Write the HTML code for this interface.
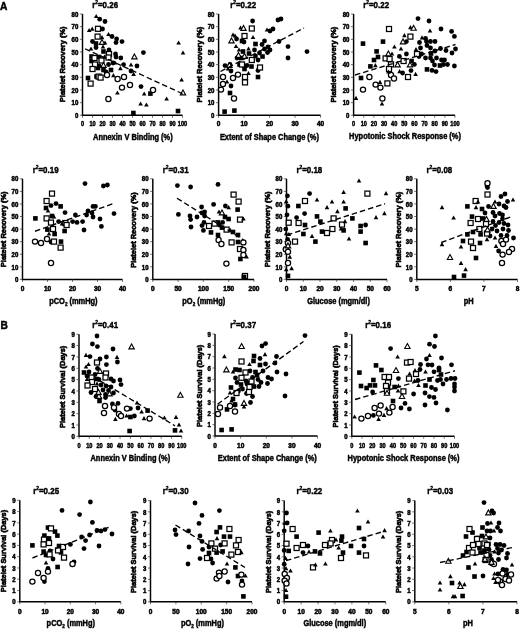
<!DOCTYPE html><html><head><meta charset="utf-8"><style>html,body{margin:0;padding:0;background:#fff;overflow:hidden;}svg{display:block;will-change:transform;}text{font-family:"Liberation Sans", sans-serif;font-weight:bold;fill:#000;}.o{fill:#fff;stroke:#000;}.t{stroke:#000;stroke-width:0.45;}.k{stroke:#000;stroke-width:0.5;}</style></head><body>
<svg width="520" height="629" viewBox="0 0 520 629">
<rect width="520" height="629" fill="#fff"/>
<text x="0" y="10.3" font-size="10.2" class="t">A</text>
<text x="0.5" y="328.8" font-size="10.2" class="t">B</text>
<path d="M82.50,14.00V115.30H182.50" fill="none" stroke="#000" stroke-width="1.45"/>
<path d="M82.50,115.30v2.5 M92.50,115.30v2.5 M102.50,115.30v2.5 M112.50,115.30v2.5 M122.50,115.30v2.5 M132.50,115.30v2.5 M142.50,115.30v2.5 M152.50,115.30v2.5 M162.50,115.30v2.5 M172.50,115.30v2.5 M182.50,115.30v2.5 M82.50,115.30h-2.6 M82.50,102.64h-2.6 M82.50,89.97h-2.6 M82.50,77.31h-2.6 M82.50,64.65h-2.6 M82.50,51.99h-2.6 M82.50,39.33h-2.6 M82.50,26.66h-2.6 M82.50,14.00h-2.6" stroke="#333" stroke-width="0.7" fill="none"/>
<text transform="translate(82.50,125.70) scale(0.78,1)" font-size="7.2" text-anchor="middle" class="k">0</text>
<text transform="translate(92.50,125.70) scale(0.78,1)" font-size="7.2" text-anchor="middle" class="k">10</text>
<text transform="translate(102.50,125.70) scale(0.78,1)" font-size="7.2" text-anchor="middle" class="k">20</text>
<text transform="translate(112.50,125.70) scale(0.78,1)" font-size="7.2" text-anchor="middle" class="k">30</text>
<text transform="translate(122.50,125.70) scale(0.78,1)" font-size="7.2" text-anchor="middle" class="k">40</text>
<text transform="translate(132.50,125.70) scale(0.78,1)" font-size="7.2" text-anchor="middle" class="k">50</text>
<text transform="translate(142.50,125.70) scale(0.78,1)" font-size="7.2" text-anchor="middle" class="k">60</text>
<text transform="translate(152.50,125.70) scale(0.78,1)" font-size="7.2" text-anchor="middle" class="k">70</text>
<text transform="translate(162.50,125.70) scale(0.78,1)" font-size="7.2" text-anchor="middle" class="k">80</text>
<text transform="translate(172.50,125.70) scale(0.78,1)" font-size="7.2" text-anchor="middle" class="k">90</text>
<text transform="translate(182.50,125.70) scale(0.78,1)" font-size="7.2" text-anchor="middle" class="k">100</text>
<text transform="translate(78.30,117.98) scale(0.93,1)" font-size="6.5" text-anchor="end" class="k">0</text>
<text transform="translate(78.30,105.31) scale(0.93,1)" font-size="6.5" text-anchor="end" class="k">10</text>
<text transform="translate(78.30,92.65) scale(0.93,1)" font-size="6.5" text-anchor="end" class="k">20</text>
<text transform="translate(78.30,79.99) scale(0.93,1)" font-size="6.5" text-anchor="end" class="k">30</text>
<text transform="translate(78.30,67.33) scale(0.93,1)" font-size="6.5" text-anchor="end" class="k">40</text>
<text transform="translate(78.30,54.66) scale(0.93,1)" font-size="6.5" text-anchor="end" class="k">50</text>
<text transform="translate(78.30,42.00) scale(0.93,1)" font-size="6.5" text-anchor="end" class="k">60</text>
<text transform="translate(78.30,29.34) scale(0.93,1)" font-size="6.5" text-anchor="end" class="k">70</text>
<text transform="translate(78.30,16.67) scale(0.93,1)" font-size="6.5" text-anchor="end" class="k">80</text>
<text transform="translate(132.85,139.60) scale(0.885,1)" font-size="8.4" text-anchor="middle" class="t">Annexin V Binding (%)</text>
<text transform="translate(65.40,64.30) rotate(-90) scale(0.98,1)" font-size="7.6" text-anchor="middle" class="t" style="stroke-width:0.6">Platelet Recovery (%)</text>
<text transform="translate(92.20,7.80) scale(0.81,1)" font-size="9.8" class="t">r<tspan font-size="6" dy="-3.4">2</tspan><tspan dy="3.4">=0.26</tspan></text>
<g><circle cx="105.00" cy="21.50" r="2.4"/><circle cx="102.50" cy="29.00" r="2.4"/><circle cx="116.60" cy="39.00" r="2.4"/><circle cx="116.00" cy="42.60" r="2.4"/><circle cx="122.00" cy="41.60" r="2.4"/><circle cx="112.00" cy="36.50" r="2.4"/><circle cx="99.70" cy="19.20" r="2.4"/><circle cx="92.50" cy="41.50" r="2.4"/><circle cx="96.00" cy="47.50" r="2.4"/><circle cx="109.00" cy="50.00" r="2.4"/><circle cx="115.50" cy="54.00" r="2.4"/><circle cx="116.00" cy="57.00" r="2.4"/><circle cx="120.80" cy="58.00" r="2.4"/><circle cx="99.00" cy="66.00" r="2.4"/><circle cx="108.50" cy="64.50" r="2.4"/><circle cx="113.00" cy="63.00" r="2.4"/><circle cx="123.60" cy="64.60" r="2.4"/><circle cx="131.00" cy="71.00" r="2.4"/><circle cx="137.00" cy="66.00" r="2.4"/><circle cx="143.40" cy="52.60" r="2.4"/><circle cx="141.00" cy="86.60" r="2.4"/><circle cx="106.00" cy="72.00" r="2.4"/><rect x="93.70" y="41.20" width="4.6" height="4.6"/><rect x="101.20" y="49.20" width="4.6" height="4.6"/><rect x="89.20" y="54.20" width="4.6" height="4.6"/><rect x="96.70" y="54.70" width="4.6" height="4.6"/><rect x="89.20" y="58.70" width="4.6" height="4.6"/><rect x="95.70" y="65.70" width="4.6" height="4.6"/><rect x="101.20" y="67.70" width="4.6" height="4.6"/><rect x="108.70" y="67.70" width="4.6" height="4.6"/><rect x="85.70" y="75.70" width="4.6" height="4.6"/><rect x="94.20" y="74.20" width="4.6" height="4.6"/><rect x="148.10" y="91.30" width="4.6" height="4.6"/><rect x="131.10" y="110.70" width="4.6" height="4.6"/><rect x="175.70" y="108.70" width="4.6" height="4.6"/><rect x="95.50" y="26.30" width="5.0" height="5.0" class="o" stroke-width="1.25"/><rect x="95.10" y="34.10" width="5.0" height="5.0" class="o" stroke-width="1.25"/><rect x="106.50" y="51.50" width="5.0" height="5.0" class="o" stroke-width="1.25"/><rect x="92.00" y="55.50" width="5.0" height="5.0" class="o" stroke-width="1.25"/><rect x="99.00" y="58.00" width="5.0" height="5.0" class="o" stroke-width="1.25"/><rect x="106.00" y="55.00" width="5.0" height="5.0" class="o" stroke-width="1.25"/><rect x="92.50" y="62.00" width="5.0" height="5.0" class="o" stroke-width="1.25"/><rect x="90.00" y="66.50" width="5.0" height="5.0" class="o" stroke-width="1.25"/><rect x="88.10" y="81.10" width="5.0" height="5.0" class="o" stroke-width="1.25"/><rect x="96.10" y="74.10" width="5.0" height="5.0" class="o" stroke-width="1.25"/><rect x="98.10" y="75.10" width="5.0" height="5.0" class="o" stroke-width="1.25"/><circle cx="108.40" cy="99.00" r="2.6" class="o" stroke-width="1.25"/><circle cx="122.00" cy="87.60" r="2.6" class="o" stroke-width="1.25"/><circle cx="130.00" cy="85.00" r="2.6" class="o" stroke-width="1.25"/><circle cx="117.60" cy="79.00" r="2.6" class="o" stroke-width="1.25"/><circle cx="124.00" cy="77.00" r="2.6" class="o" stroke-width="1.25"/><circle cx="153.00" cy="90.00" r="2.6" class="o" stroke-width="1.25"/><circle cx="107.00" cy="75.00" r="2.6" class="o" stroke-width="1.25"/><path d="M96.20,13.90L98.50,18.11L93.90,18.11Z"/><path d="M89.20,27.90L91.50,32.11L86.90,32.11Z"/><path d="M92.20,26.60L94.50,30.81L89.90,30.81Z"/><path d="M102.00,35.00L104.30,39.21L99.70,39.21Z"/><path d="M108.50,31.90L110.80,36.11L106.20,36.11Z"/><path d="M105.00,40.40L107.30,44.61L102.70,44.61Z"/><path d="M103.00,44.40L105.30,48.61L100.70,48.61Z"/><path d="M91.00,46.40L93.30,50.61L88.70,50.61Z"/><path d="M104.50,54.40L106.80,58.61L102.20,58.61Z"/><path d="M115.00,60.40L117.30,64.61L112.70,64.61Z"/><path d="M120.40,66.00L122.70,70.21L118.10,70.21Z"/><path d="M131.00,62.40L133.30,66.61L128.70,66.61Z"/><path d="M133.60,71.80L135.90,76.01L131.30,76.01Z"/><path d="M113.40,73.00L115.70,77.21L111.10,77.21Z"/><path d="M117.40,90.40L119.70,94.61L115.10,94.61Z"/><path d="M144.20,91.40L146.50,95.61L141.90,95.61Z"/><path d="M140.60,101.40L142.90,105.61L138.30,105.61Z"/><path d="M146.40,102.40L148.70,106.61L144.10,106.61Z"/><path d="M166.60,96.40L168.90,100.61L164.30,100.61Z"/><path d="M178.60,40.40L180.90,44.61L176.30,44.61Z"/><path d="M183.00,50.40L185.30,54.61L180.70,54.61Z"/><path d="M181.60,77.40L183.90,81.61L179.30,81.61Z"/><path d="M102.00,39.50L104.70,44.36L99.30,44.36Z" class="o" stroke-width="1.1"/><path d="M103.50,62.50L106.20,67.36L100.80,67.36Z" class="o" stroke-width="1.1"/><path d="M134.40,54.00L137.10,58.86L131.70,58.86Z" class="o" stroke-width="1.1"/><path d="M183.00,90.00L185.70,94.86L180.30,94.86Z" class="o" stroke-width="1.1"/></g>
<path d="M85.00,48.75L182.50,93.75" stroke="#000" stroke-width="1.35" stroke-dasharray="5.5,3" fill="none"/>
<path d="M218.60,14.00V115.30H320.60" fill="none" stroke="#000" stroke-width="1.45"/>
<path d="M218.60,115.30v2.5 M244.10,115.30v2.5 M269.60,115.30v2.5 M295.10,115.30v2.5 M320.60,115.30v2.5 M218.60,115.30h-2.6 M218.60,102.64h-2.6 M218.60,89.97h-2.6 M218.60,77.31h-2.6 M218.60,64.65h-2.6 M218.60,51.99h-2.6 M218.60,39.33h-2.6 M218.60,26.66h-2.6 M218.60,14.00h-2.6" stroke="#333" stroke-width="0.7" fill="none"/>
<text transform="translate(218.60,125.70) scale(1.0,1)" font-size="6.5" text-anchor="middle" class="k">0</text>
<text transform="translate(244.10,125.70) scale(1.0,1)" font-size="6.5" text-anchor="middle" class="k">10</text>
<text transform="translate(269.60,125.70) scale(1.0,1)" font-size="6.5" text-anchor="middle" class="k">20</text>
<text transform="translate(295.10,125.70) scale(1.0,1)" font-size="6.5" text-anchor="middle" class="k">30</text>
<text transform="translate(320.60,125.70) scale(1.0,1)" font-size="6.5" text-anchor="middle" class="k">40</text>
<text transform="translate(214.40,117.98) scale(0.93,1)" font-size="6.5" text-anchor="end" class="k">0</text>
<text transform="translate(214.40,105.31) scale(0.93,1)" font-size="6.5" text-anchor="end" class="k">10</text>
<text transform="translate(214.40,92.65) scale(0.93,1)" font-size="6.5" text-anchor="end" class="k">20</text>
<text transform="translate(214.40,79.99) scale(0.93,1)" font-size="6.5" text-anchor="end" class="k">30</text>
<text transform="translate(214.40,67.33) scale(0.93,1)" font-size="6.5" text-anchor="end" class="k">40</text>
<text transform="translate(214.40,54.66) scale(0.93,1)" font-size="6.5" text-anchor="end" class="k">50</text>
<text transform="translate(214.40,42.00) scale(0.93,1)" font-size="6.5" text-anchor="end" class="k">60</text>
<text transform="translate(214.40,29.34) scale(0.93,1)" font-size="6.5" text-anchor="end" class="k">70</text>
<text transform="translate(214.40,16.67) scale(0.93,1)" font-size="6.5" text-anchor="end" class="k">80</text>
<text transform="translate(269.40,139.60) scale(0.885,1)" font-size="8.4" text-anchor="middle" class="t">Extent of Shape Change (%)</text>
<text transform="translate(202.00,64.60) rotate(-90) scale(0.98,1)" font-size="7.6" text-anchor="middle" class="t" style="stroke-width:0.6">Platelet Recovery (%)</text>
<text transform="translate(230.20,7.80) scale(0.81,1)" font-size="9.8" class="t">r<tspan font-size="6" dy="-3.4">2</tspan><tspan dy="3.4">=0.22</tspan></text>
<g><circle cx="252.60" cy="21.00" r="2.4"/><circle cx="278.00" cy="20.00" r="2.4"/><circle cx="281.00" cy="19.00" r="2.4"/><circle cx="270.00" cy="31.00" r="2.4"/><circle cx="273.00" cy="29.00" r="2.4"/><circle cx="236.50" cy="39.00" r="2.4"/><circle cx="244.00" cy="42.00" r="2.4"/><circle cx="264.50" cy="41.00" r="2.4"/><circle cx="279.00" cy="41.50" r="2.4"/><circle cx="262.00" cy="44.50" r="2.4"/><circle cx="268.00" cy="47.00" r="2.4"/><circle cx="270.00" cy="50.00" r="2.4"/><circle cx="264.50" cy="49.00" r="2.4"/><circle cx="254.50" cy="50.00" r="2.4"/><circle cx="267.50" cy="52.50" r="2.4"/><circle cx="259.50" cy="53.00" r="2.4"/><circle cx="255.50" cy="56.00" r="2.4"/><circle cx="237.00" cy="58.00" r="2.4"/><circle cx="258.00" cy="60.00" r="2.4"/><circle cx="247.00" cy="65.50" r="2.4"/><circle cx="258.00" cy="70.50" r="2.4"/><circle cx="230.00" cy="64.50" r="2.4"/><circle cx="231.00" cy="71.00" r="2.4"/><circle cx="288.00" cy="46.60" r="2.4"/><circle cx="307.00" cy="51.60" r="2.4"/><circle cx="288.00" cy="58.00" r="2.4"/><circle cx="225.00" cy="65.60" r="2.4"/><circle cx="231.00" cy="86.00" r="2.4"/><rect x="239.70" y="38.70" width="4.6" height="4.6"/><rect x="253.20" y="41.70" width="4.6" height="4.6"/><rect x="240.70" y="49.20" width="4.6" height="4.6"/><rect x="246.70" y="51.20" width="4.6" height="4.6"/><rect x="260.20" y="54.20" width="4.6" height="4.6"/><rect x="238.70" y="55.70" width="4.6" height="4.6"/><rect x="237.20" y="62.20" width="4.6" height="4.6"/><rect x="249.20" y="64.20" width="4.6" height="4.6"/><rect x="242.20" y="66.70" width="4.6" height="4.6"/><rect x="255.70" y="74.70" width="4.6" height="4.6"/><rect x="227.70" y="90.70" width="4.6" height="4.6"/><rect x="222.30" y="109.30" width="4.6" height="4.6"/><rect x="232.10" y="108.30" width="4.6" height="4.6"/><rect x="249.30" y="26.00" width="5.0" height="5.0" class="o" stroke-width="1.25"/><rect x="242.00" y="33.50" width="5.0" height="5.0" class="o" stroke-width="1.25"/><rect x="249.30" y="57.50" width="5.0" height="5.0" class="o" stroke-width="1.25"/><rect x="239.50" y="62.00" width="5.0" height="5.0" class="o" stroke-width="1.25"/><rect x="257.50" y="65.00" width="5.0" height="5.0" class="o" stroke-width="1.25"/><rect x="242.50" y="74.50" width="5.0" height="5.0" class="o" stroke-width="1.25"/><rect x="242.50" y="79.90" width="5.0" height="5.0" class="o" stroke-width="1.25"/><circle cx="223.00" cy="77.00" r="2.6" class="o" stroke-width="1.25"/><circle cx="223.00" cy="84.00" r="2.6" class="o" stroke-width="1.25"/><circle cx="221.00" cy="89.60" r="2.6" class="o" stroke-width="1.25"/><circle cx="233.00" cy="78.00" r="2.6" class="o" stroke-width="1.25"/><circle cx="238.00" cy="74.60" r="2.6" class="o" stroke-width="1.25"/><circle cx="234.00" cy="98.40" r="2.6" class="o" stroke-width="1.25"/><path d="M240.50,25.40L242.80,29.61L238.20,29.61Z"/><path d="M267.00,27.40L269.30,31.61L264.70,31.61Z"/><path d="M233.00,32.40L235.30,36.61L230.70,36.61Z"/><path d="M235.00,33.40L237.30,37.61L232.70,37.61Z"/><path d="M253.00,34.90L255.30,39.11L250.70,39.11Z"/><path d="M236.00,43.90L238.30,48.11L233.70,48.11Z"/><path d="M248.50,46.40L250.80,50.61L246.20,50.61Z"/><path d="M239.00,47.40L241.30,51.61L236.70,51.61Z"/><path d="M248.50,70.90L250.80,75.11L246.20,75.11Z"/><path d="M228.00,66.40L230.30,70.61L225.70,70.61Z"/><path d="M227.00,79.40L229.30,83.61L224.70,83.61Z"/><path d="M243.50,25.50L246.20,30.36L240.80,30.36Z" class="o" stroke-width="1.1"/><path d="M231.50,38.00L234.20,42.86L228.80,42.86Z" class="o" stroke-width="1.1"/><path d="M238.50,52.50L241.20,57.36L235.80,57.36Z" class="o" stroke-width="1.1"/><path d="M244.50,53.50L247.20,58.36L241.80,58.36Z" class="o" stroke-width="1.1"/><path d="M229.40,62.60L232.10,67.46L226.70,67.46Z" class="o" stroke-width="1.1"/></g>
<path d="M220.50,71.50L304.00,28.00" stroke="#000" stroke-width="1.35" stroke-dasharray="5.5,3" fill="none"/>
<path d="M353.60,14.00V115.30H455.00" fill="none" stroke="#000" stroke-width="1.45"/>
<path d="M353.60,115.30v2.5 M363.74,115.30v2.5 M373.88,115.30v2.5 M384.02,115.30v2.5 M394.16,115.30v2.5 M404.30,115.30v2.5 M414.44,115.30v2.5 M424.58,115.30v2.5 M434.72,115.30v2.5 M444.86,115.30v2.5 M455.00,115.30v2.5 M353.60,115.30h-2.6 M353.60,102.64h-2.6 M353.60,89.97h-2.6 M353.60,77.31h-2.6 M353.60,64.65h-2.6 M353.60,51.99h-2.6 M353.60,39.33h-2.6 M353.60,26.66h-2.6 M353.60,14.00h-2.6" stroke="#333" stroke-width="0.7" fill="none"/>
<text transform="translate(353.60,125.70) scale(0.78,1)" font-size="7.2" text-anchor="middle" class="k">0</text>
<text transform="translate(363.74,125.70) scale(0.78,1)" font-size="7.2" text-anchor="middle" class="k">10</text>
<text transform="translate(373.88,125.70) scale(0.78,1)" font-size="7.2" text-anchor="middle" class="k">20</text>
<text transform="translate(384.02,125.70) scale(0.78,1)" font-size="7.2" text-anchor="middle" class="k">30</text>
<text transform="translate(394.16,125.70) scale(0.78,1)" font-size="7.2" text-anchor="middle" class="k">40</text>
<text transform="translate(404.30,125.70) scale(0.78,1)" font-size="7.2" text-anchor="middle" class="k">50</text>
<text transform="translate(414.44,125.70) scale(0.78,1)" font-size="7.2" text-anchor="middle" class="k">60</text>
<text transform="translate(424.58,125.70) scale(0.78,1)" font-size="7.2" text-anchor="middle" class="k">70</text>
<text transform="translate(434.72,125.70) scale(0.78,1)" font-size="7.2" text-anchor="middle" class="k">80</text>
<text transform="translate(444.86,125.70) scale(0.78,1)" font-size="7.2" text-anchor="middle" class="k">90</text>
<text transform="translate(455.00,125.70) scale(0.78,1)" font-size="7.2" text-anchor="middle" class="k">100</text>
<text transform="translate(349.40,117.98) scale(0.93,1)" font-size="6.5" text-anchor="end" class="k">0</text>
<text transform="translate(349.40,105.31) scale(0.93,1)" font-size="6.5" text-anchor="end" class="k">10</text>
<text transform="translate(349.40,92.65) scale(0.93,1)" font-size="6.5" text-anchor="end" class="k">20</text>
<text transform="translate(349.40,79.99) scale(0.93,1)" font-size="6.5" text-anchor="end" class="k">30</text>
<text transform="translate(349.40,67.33) scale(0.93,1)" font-size="6.5" text-anchor="end" class="k">40</text>
<text transform="translate(349.40,54.66) scale(0.93,1)" font-size="6.5" text-anchor="end" class="k">50</text>
<text transform="translate(349.40,42.00) scale(0.93,1)" font-size="6.5" text-anchor="end" class="k">60</text>
<text transform="translate(349.40,29.34) scale(0.93,1)" font-size="6.5" text-anchor="end" class="k">70</text>
<text transform="translate(349.40,16.67) scale(0.93,1)" font-size="6.5" text-anchor="end" class="k">80</text>
<text transform="translate(405.00,139.40) scale(0.885,1)" font-size="8.4" text-anchor="middle" class="t">Hypotonic Shock Response (%)</text>
<text transform="translate(336.20,64.60) rotate(-90) scale(0.98,1)" font-size="7.6" text-anchor="middle" class="t" style="stroke-width:0.6">Platelet Recovery (%)</text>
<text transform="translate(363.20,7.80) scale(0.81,1)" font-size="9.8" class="t">r<tspan font-size="6" dy="-3.4">2</tspan><tspan dy="3.4">=0.22</tspan></text>
<g><circle cx="418.00" cy="18.60" r="2.4"/><circle cx="429.00" cy="21.00" r="2.4"/><circle cx="441.00" cy="29.00" r="2.4"/><circle cx="451.60" cy="31.40" r="2.4"/><circle cx="454.40" cy="36.40" r="2.4"/><circle cx="406.40" cy="41.60" r="2.4"/><circle cx="399.40" cy="56.40" r="2.4"/><circle cx="406.40" cy="54.00" r="2.4"/><circle cx="411.00" cy="70.60" r="2.4"/><circle cx="414.40" cy="64.40" r="2.4"/><circle cx="402.60" cy="73.00" r="2.4"/><circle cx="432.00" cy="70.40" r="2.4"/><circle cx="436.00" cy="71.60" r="2.4"/><circle cx="454.40" cy="66.00" r="2.4"/><circle cx="425.50" cy="38.50" r="2.4"/><circle cx="419.50" cy="42.50" r="2.4"/><circle cx="426.50" cy="41.50" r="2.4"/><circle cx="430.50" cy="41.50" r="2.4"/><circle cx="435.00" cy="41.50" r="2.4"/><circle cx="420.50" cy="48.00" r="2.4"/><circle cx="427.00" cy="45.50" r="2.4"/><circle cx="430.50" cy="48.00" r="2.4"/><circle cx="440.50" cy="48.50" r="2.4"/><circle cx="446.00" cy="50.50" r="2.4"/><circle cx="452.00" cy="53.00" r="2.4"/><circle cx="455.50" cy="49.00" r="2.4"/><circle cx="435.00" cy="51.00" r="2.4"/><circle cx="421.50" cy="54.00" r="2.4"/><circle cx="425.50" cy="58.00" r="2.4"/><circle cx="430.50" cy="58.00" r="2.4"/><circle cx="436.50" cy="58.00" r="2.4"/><circle cx="432.50" cy="61.00" r="2.4"/><circle cx="441.50" cy="60.00" r="2.4"/><circle cx="444.50" cy="60.00" r="2.4"/><circle cx="434.50" cy="65.00" r="2.4"/><circle cx="443.50" cy="64.50" r="2.4"/><circle cx="447.50" cy="64.50" r="2.4"/><circle cx="419.00" cy="56.50" r="2.4"/><rect x="360.70" y="41.30" width="4.6" height="4.6"/><rect x="380.70" y="39.30" width="4.6" height="4.6"/><rect x="374.30" y="49.10" width="4.6" height="4.6"/><rect x="375.70" y="54.70" width="4.6" height="4.6"/><rect x="371.70" y="57.70" width="4.6" height="4.6"/><rect x="368.10" y="64.10" width="4.6" height="4.6"/><rect x="358.70" y="75.70" width="4.6" height="4.6"/><rect x="424.70" y="67.10" width="4.6" height="4.6"/><rect x="409.30" y="58.70" width="4.6" height="4.6"/><rect x="428.70" y="51.20" width="4.6" height="4.6"/><rect x="437.70" y="63.20" width="4.6" height="4.6"/><rect x="386.50" y="26.50" width="5.0" height="5.0" class="o" stroke-width="1.25"/><rect x="407.90" y="34.10" width="5.0" height="5.0" class="o" stroke-width="1.25"/><rect x="384.90" y="80.90" width="5.0" height="5.0" class="o" stroke-width="1.25"/><rect x="405.50" y="74.50" width="5.0" height="5.0" class="o" stroke-width="1.25"/><rect x="383.10" y="55.90" width="5.0" height="5.0" class="o" stroke-width="1.25"/><rect x="387.10" y="56.50" width="5.0" height="5.0" class="o" stroke-width="1.25"/><rect x="388.50" y="61.90" width="5.0" height="5.0" class="o" stroke-width="1.25"/><rect x="386.50" y="66.50" width="5.0" height="5.0" class="o" stroke-width="1.25"/><rect x="401.10" y="58.50" width="5.0" height="5.0" class="o" stroke-width="1.25"/><rect x="414.50" y="51.50" width="5.0" height="5.0" class="o" stroke-width="1.25"/><circle cx="369.40" cy="77.00" r="2.6" class="o" stroke-width="1.25"/><circle cx="363.00" cy="89.60" r="2.6" class="o" stroke-width="1.25"/><circle cx="375.60" cy="84.60" r="2.6" class="o" stroke-width="1.25"/><circle cx="380.40" cy="87.60" r="2.6" class="o" stroke-width="1.25"/><circle cx="382.40" cy="98.40" r="2.6" class="o" stroke-width="1.25"/><circle cx="391.00" cy="75.00" r="2.6" class="o" stroke-width="1.25"/><circle cx="394.00" cy="78.40" r="2.6" class="o" stroke-width="1.25"/><path d="M410.40,25.00L412.70,29.21L408.10,29.21Z"/><path d="M430.00,28.40L432.30,32.61L427.70,32.61Z"/><path d="M404.40,33.00L406.70,37.21L402.10,37.21Z"/><path d="M394.40,44.40L396.70,48.61L392.10,48.61Z"/><path d="M401.00,46.40L403.30,50.61L398.70,50.61Z"/><path d="M375.40,63.00L377.70,67.21L373.10,67.21Z"/><path d="M380.00,79.80L382.30,84.01L377.70,84.01Z"/><path d="M382.00,101.40L384.30,105.61L379.70,105.61Z"/><path d="M356.00,95.80L358.30,100.01L353.70,100.01Z"/><path d="M415.60,71.80L417.90,76.01L413.30,76.01Z"/><path d="M392.00,51.40L394.30,55.61L389.70,55.61Z"/><path d="M388.40,69.40L390.70,73.61L386.10,73.61Z"/><path d="M399.60,69.00L401.90,73.21L397.30,73.21Z"/><path d="M416.00,47.00L418.30,51.21L413.70,51.21Z"/><path d="M422.00,35.20L424.30,39.41L419.70,39.41Z"/><path d="M413.60,25.40L416.30,30.26L410.90,30.26Z" class="o" stroke-width="1.1"/><path d="M403.00,39.00L405.70,43.86L400.30,43.86Z" class="o" stroke-width="1.1"/><path d="M388.40,51.00L391.10,55.86L385.70,55.86Z" class="o" stroke-width="1.1"/><path d="M397.60,62.00L400.30,66.86L394.90,66.86Z" class="o" stroke-width="1.1"/><path d="M410.00,62.00L412.70,66.86L407.30,66.86Z" class="o" stroke-width="1.1"/></g>
<path d="M355.00,75.00L455.50,44.50" stroke="#000" stroke-width="1.35" stroke-dasharray="5.5,3" fill="none"/>
<path d="M22.50,178.80V279.40H122.50" fill="none" stroke="#000" stroke-width="1.45"/>
<path d="M22.50,279.40v2.5 M47.50,279.40v2.5 M72.50,279.40v2.5 M97.50,279.40v2.5 M122.50,279.40v2.5 M22.50,279.40h-2.6 M22.50,266.82h-2.6 M22.50,254.25h-2.6 M22.50,241.67h-2.6 M22.50,229.10h-2.6 M22.50,216.53h-2.6 M22.50,203.95h-2.6 M22.50,191.38h-2.6 M22.50,178.80h-2.6" stroke="#333" stroke-width="0.7" fill="none"/>
<text transform="translate(22.50,291.00) scale(1.0,1)" font-size="6.5" text-anchor="middle" class="k">0</text>
<text transform="translate(47.50,291.00) scale(1.0,1)" font-size="6.5" text-anchor="middle" class="k">10</text>
<text transform="translate(72.50,291.00) scale(1.0,1)" font-size="6.5" text-anchor="middle" class="k">20</text>
<text transform="translate(97.50,291.00) scale(1.0,1)" font-size="6.5" text-anchor="middle" class="k">30</text>
<text transform="translate(122.50,291.00) scale(1.0,1)" font-size="6.5" text-anchor="middle" class="k">40</text>
<text transform="translate(18.30,282.07) scale(0.93,1)" font-size="6.5" text-anchor="end" class="k">0</text>
<text transform="translate(18.30,269.50) scale(0.93,1)" font-size="6.5" text-anchor="end" class="k">10</text>
<text transform="translate(18.30,256.92) scale(0.93,1)" font-size="6.5" text-anchor="end" class="k">20</text>
<text transform="translate(18.30,244.35) scale(0.93,1)" font-size="6.5" text-anchor="end" class="k">30</text>
<text transform="translate(18.30,231.78) scale(0.93,1)" font-size="6.5" text-anchor="end" class="k">40</text>
<text transform="translate(18.30,219.20) scale(0.93,1)" font-size="6.5" text-anchor="end" class="k">50</text>
<text transform="translate(18.30,206.62) scale(0.93,1)" font-size="6.5" text-anchor="end" class="k">60</text>
<text transform="translate(18.30,194.05) scale(0.93,1)" font-size="6.5" text-anchor="end" class="k">70</text>
<text transform="translate(18.30,181.48) scale(0.93,1)" font-size="6.5" text-anchor="end" class="k">80</text>
<text transform="translate(73.40,304.30) scale(0.885,1)" font-size="8.4" text-anchor="middle" class="t">pCO<tspan font-size="5.2" dy="1.8">2</tspan><tspan dy="-1.8"> (mmHg)</tspan></text>
<text transform="translate(6.10,229.30) rotate(-90) scale(0.98,1)" font-size="7.6" text-anchor="middle" class="t" style="stroke-width:0.6">Platelet Recovery (%)</text>
<text transform="translate(32.70,172.60) scale(0.81,1)" font-size="9.8" class="t">r<tspan font-size="6" dy="-3.4">2</tspan><tspan dy="3.4">=0.19</tspan></text>
<g><circle cx="85.00" cy="183.60" r="2.4"/><circle cx="103.40" cy="186.00" r="2.4"/><circle cx="107.40" cy="185.00" r="2.4"/><circle cx="51.00" cy="205.60" r="2.4"/><circle cx="56.00" cy="203.60" r="2.4"/><circle cx="65.00" cy="212.60" r="2.4"/><circle cx="93.00" cy="206.40" r="2.4"/><circle cx="95.40" cy="206.40" r="2.4"/><circle cx="88.00" cy="211.00" r="2.4"/><circle cx="92.00" cy="213.00" r="2.4"/><circle cx="86.60" cy="215.00" r="2.4"/><circle cx="75.40" cy="215.00" r="2.4"/><circle cx="93.00" cy="217.00" r="2.4"/><circle cx="114.00" cy="213.60" r="2.4"/><circle cx="100.00" cy="219.00" r="2.4"/><circle cx="101.40" cy="226.40" r="2.4"/><circle cx="84.00" cy="230.00" r="2.4"/><circle cx="72.60" cy="221.60" r="2.4"/><circle cx="77.00" cy="222.40" r="2.4"/><circle cx="82.60" cy="221.60" r="2.4"/><circle cx="58.60" cy="221.60" r="2.4"/><circle cx="51.00" cy="242.00" r="2.4"/><rect x="58.30" y="204.10" width="4.6" height="4.6"/><rect x="43.70" y="205.70" width="4.6" height="4.6"/><rect x="33.10" y="216.10" width="4.6" height="4.6"/><rect x="49.70" y="213.70" width="4.6" height="4.6"/><rect x="45.10" y="227.30" width="4.6" height="4.6"/><rect x="52.30" y="231.70" width="4.6" height="4.6"/><rect x="62.30" y="228.70" width="4.6" height="4.6"/><rect x="58.70" y="239.30" width="4.6" height="4.6"/><rect x="49.50" y="191.10" width="5.0" height="5.0" class="o" stroke-width="1.25"/><rect x="44.10" y="198.50" width="5.0" height="5.0" class="o" stroke-width="1.25"/><rect x="44.10" y="215.90" width="5.0" height="5.0" class="o" stroke-width="1.25"/><rect x="48.50" y="220.10" width="5.0" height="5.0" class="o" stroke-width="1.25"/><rect x="62.90" y="220.50" width="5.0" height="5.0" class="o" stroke-width="1.25"/><rect x="64.10" y="222.50" width="5.0" height="5.0" class="o" stroke-width="1.25"/><rect x="50.50" y="226.50" width="5.0" height="5.0" class="o" stroke-width="1.25"/><rect x="51.50" y="239.10" width="5.0" height="5.0" class="o" stroke-width="1.25"/><rect x="58.10" y="245.10" width="5.0" height="5.0" class="o" stroke-width="1.25"/><circle cx="35.00" cy="241.60" r="2.6" class="o" stroke-width="1.25"/><circle cx="41.00" cy="243.00" r="2.6" class="o" stroke-width="1.25"/><circle cx="47.00" cy="239.00" r="2.6" class="o" stroke-width="1.25"/><circle cx="51.00" cy="263.00" r="2.6" class="o" stroke-width="1.25"/><path d="M48.00,208.40L50.30,212.61L45.70,212.61Z"/><path d="M54.00,214.40L56.30,218.61L51.70,218.61Z"/><path d="M62.00,221.40L64.30,225.61L59.70,225.61Z"/><path d="M49.00,231.40L51.30,235.61L46.70,235.61Z"/></g>
<path d="M35.00,231.25L115.00,203.00" stroke="#000" stroke-width="1.35" stroke-dasharray="5.5,3" fill="none"/>
<path d="M152.80,178.80V279.40H254.00" fill="none" stroke="#000" stroke-width="1.45"/>
<path d="M152.80,279.40v2.5 M178.10,279.40v2.5 M203.40,279.40v2.5 M228.70,279.40v2.5 M254.00,279.40v2.5 M152.80,279.40h-2.6 M152.80,266.82h-2.6 M152.80,254.25h-2.6 M152.80,241.67h-2.6 M152.80,229.10h-2.6 M152.80,216.53h-2.6 M152.80,203.95h-2.6 M152.80,191.38h-2.6 M152.80,178.80h-2.6" stroke="#333" stroke-width="0.7" fill="none"/>
<text transform="translate(152.80,291.00) scale(1.0,1)" font-size="6.5" text-anchor="middle" class="k">0</text>
<text transform="translate(178.10,291.00) scale(1.0,1)" font-size="6.5" text-anchor="middle" class="k">50</text>
<text transform="translate(203.40,291.00) scale(1.0,1)" font-size="6.5" text-anchor="middle" class="k">100</text>
<text transform="translate(228.70,291.00) scale(1.0,1)" font-size="6.5" text-anchor="middle" class="k">150</text>
<text transform="translate(254.00,291.00) scale(1.0,1)" font-size="6.5" text-anchor="middle" class="k">200</text>
<text transform="translate(148.60,282.07) scale(0.93,1)" font-size="6.5" text-anchor="end" class="k">0</text>
<text transform="translate(148.60,269.50) scale(0.93,1)" font-size="6.5" text-anchor="end" class="k">10</text>
<text transform="translate(148.60,256.92) scale(0.93,1)" font-size="6.5" text-anchor="end" class="k">20</text>
<text transform="translate(148.60,244.35) scale(0.93,1)" font-size="6.5" text-anchor="end" class="k">30</text>
<text transform="translate(148.60,231.78) scale(0.93,1)" font-size="6.5" text-anchor="end" class="k">40</text>
<text transform="translate(148.60,219.20) scale(0.93,1)" font-size="6.5" text-anchor="end" class="k">50</text>
<text transform="translate(148.60,206.62) scale(0.93,1)" font-size="6.5" text-anchor="end" class="k">60</text>
<text transform="translate(148.60,194.05) scale(0.93,1)" font-size="6.5" text-anchor="end" class="k">70</text>
<text transform="translate(148.60,181.48) scale(0.93,1)" font-size="6.5" text-anchor="end" class="k">80</text>
<text transform="translate(203.80,304.20) scale(0.885,1)" font-size="8.4" text-anchor="middle" class="t">pO<tspan font-size="5.2" dy="1.8">2</tspan><tspan dy="-1.8"> (mmHg)</tspan></text>
<text transform="translate(136.40,230.00) rotate(-90) scale(0.98,1)" font-size="7.6" text-anchor="middle" class="t" style="stroke-width:0.6">Platelet Recovery (%)</text>
<text transform="translate(162.70,172.60) scale(0.81,1)" font-size="9.8" class="t">r<tspan font-size="6" dy="-3.4">2</tspan><tspan dy="3.4">=0.31</tspan></text>
<g><circle cx="177.40" cy="185.60" r="2.4"/><circle cx="190.60" cy="187.00" r="2.4"/><circle cx="218.00" cy="184.40" r="2.4"/><circle cx="213.60" cy="204.40" r="2.4"/><circle cx="225.40" cy="206.00" r="2.4"/><circle cx="201.60" cy="207.00" r="2.4"/><circle cx="178.40" cy="214.40" r="2.4"/><circle cx="190.00" cy="216.00" r="2.4"/><circle cx="197.00" cy="217.00" r="2.4"/><circle cx="202.00" cy="213.00" r="2.4"/><circle cx="204.60" cy="212.00" r="2.4"/><circle cx="204.60" cy="216.00" r="2.4"/><circle cx="190.60" cy="219.60" r="2.4"/><circle cx="191.00" cy="227.00" r="2.4"/><circle cx="204.00" cy="222.40" r="2.4"/><circle cx="202.00" cy="225.60" r="2.4"/><circle cx="203.40" cy="230.40" r="2.4"/><circle cx="222.60" cy="222.40" r="2.4"/><circle cx="219.40" cy="225.00" r="2.4"/><rect x="235.30" y="207.30" width="4.6" height="4.6"/><rect x="222.70" y="214.70" width="4.6" height="4.6"/><rect x="226.30" y="216.70" width="4.6" height="4.6"/><rect x="215.70" y="220.10" width="4.6" height="4.6"/><rect x="219.70" y="225.30" width="4.6" height="4.6"/><rect x="230.70" y="229.70" width="4.6" height="4.6"/><rect x="208.70" y="230.10" width="4.6" height="4.6"/><rect x="215.70" y="232.70" width="4.6" height="4.6"/><rect x="235.70" y="232.70" width="4.6" height="4.6"/><rect x="235.70" y="239.70" width="4.6" height="4.6"/><rect x="238.10" y="256.70" width="4.6" height="4.6"/><rect x="241.70" y="274.70" width="4.6" height="4.6"/><rect x="231.10" y="192.10" width="5.0" height="5.0" class="o" stroke-width="1.25"/><rect x="236.10" y="199.10" width="5.0" height="5.0" class="o" stroke-width="1.25"/><rect x="237.50" y="217.10" width="5.0" height="5.0" class="o" stroke-width="1.25"/><rect x="206.50" y="223.50" width="5.0" height="5.0" class="o" stroke-width="1.25"/><rect x="212.10" y="221.10" width="5.0" height="5.0" class="o" stroke-width="1.25"/><rect x="224.10" y="227.10" width="5.0" height="5.0" class="o" stroke-width="1.25"/><rect x="229.10" y="239.90" width="5.0" height="5.0" class="o" stroke-width="1.25"/><rect x="237.50" y="246.50" width="5.0" height="5.0" class="o" stroke-width="1.25"/><rect x="242.50" y="273.50" width="5.0" height="5.0" class="o" stroke-width="1.25"/><circle cx="218.60" cy="240.00" r="2.6" class="o" stroke-width="1.25"/><circle cx="221.40" cy="244.00" r="2.6" class="o" stroke-width="1.25"/><circle cx="243.40" cy="242.40" r="2.6" class="o" stroke-width="1.25"/><circle cx="243.40" cy="250.00" r="2.6" class="o" stroke-width="1.25"/><circle cx="243.40" cy="255.00" r="2.6" class="o" stroke-width="1.25"/><circle cx="226.40" cy="263.60" r="2.6" class="o" stroke-width="1.25"/><path d="M228.60,205.00L230.90,209.21L226.30,209.21Z"/><path d="M219.00,209.40L221.30,213.61L216.70,213.61Z"/><path d="M243.40,216.40L245.70,220.61L241.10,220.61Z"/><path d="M230.00,227.40L232.30,231.61L227.70,231.61Z"/><path d="M246.60,254.40L248.90,258.61L244.30,258.61Z"/><path d="M222.00,210.00L224.70,214.86L219.30,214.86Z" class="o" stroke-width="1.1"/><rect x="241.70" y="274.70" width="4.6" height="4.6"/></g>
<path d="M177.00,198.25L243.75,240.00" stroke="#000" stroke-width="1.35" stroke-dasharray="5.5,3" fill="none"/>
<path d="M286.50,178.80V279.40H387.00" fill="none" stroke="#000" stroke-width="1.45"/>
<path d="M286.50,279.40v2.5 M303.25,279.40v2.5 M320.00,279.40v2.5 M336.75,279.40v2.5 M353.50,279.40v2.5 M370.25,279.40v2.5 M387.00,279.40v2.5 M286.50,279.40h-2.6 M286.50,266.82h-2.6 M286.50,254.25h-2.6 M286.50,241.67h-2.6 M286.50,229.10h-2.6 M286.50,216.53h-2.6 M286.50,203.95h-2.6 M286.50,191.38h-2.6 M286.50,178.80h-2.6" stroke="#333" stroke-width="0.7" fill="none"/>
<text transform="translate(286.50,291.00) scale(1.0,1)" font-size="6.5" text-anchor="middle" class="k">0</text>
<text transform="translate(303.25,291.00) scale(1.0,1)" font-size="6.5" text-anchor="middle" class="k">10</text>
<text transform="translate(320.00,291.00) scale(1.0,1)" font-size="6.5" text-anchor="middle" class="k">20</text>
<text transform="translate(336.75,291.00) scale(1.0,1)" font-size="6.5" text-anchor="middle" class="k">30</text>
<text transform="translate(353.50,291.00) scale(1.0,1)" font-size="6.5" text-anchor="middle" class="k">40</text>
<text transform="translate(370.25,291.00) scale(1.0,1)" font-size="6.5" text-anchor="middle" class="k">50</text>
<text transform="translate(387.00,291.00) scale(1.0,1)" font-size="6.5" text-anchor="middle" class="k">60</text>
<text transform="translate(282.30,282.07) scale(0.93,1)" font-size="6.5" text-anchor="end" class="k">0</text>
<text transform="translate(282.30,269.50) scale(0.93,1)" font-size="6.5" text-anchor="end" class="k">10</text>
<text transform="translate(282.30,256.92) scale(0.93,1)" font-size="6.5" text-anchor="end" class="k">20</text>
<text transform="translate(282.30,244.35) scale(0.93,1)" font-size="6.5" text-anchor="end" class="k">30</text>
<text transform="translate(282.30,231.78) scale(0.93,1)" font-size="6.5" text-anchor="end" class="k">40</text>
<text transform="translate(282.30,219.20) scale(0.93,1)" font-size="6.5" text-anchor="end" class="k">50</text>
<text transform="translate(282.30,206.62) scale(0.93,1)" font-size="6.5" text-anchor="end" class="k">60</text>
<text transform="translate(282.30,194.05) scale(0.93,1)" font-size="6.5" text-anchor="end" class="k">70</text>
<text transform="translate(282.30,181.48) scale(0.93,1)" font-size="6.5" text-anchor="end" class="k">80</text>
<text transform="translate(338.50,304.00) scale(0.885,1)" font-size="8.4" text-anchor="middle" class="t">Glucose (mgm/dl)</text>
<text transform="translate(269.70,229.30) rotate(-90) scale(0.98,1)" font-size="7.6" text-anchor="middle" class="t" style="stroke-width:0.6">Platelet Recovery (%)</text>
<text transform="translate(296.40,172.60) scale(0.81,1)" font-size="9.8" class="t">r<tspan font-size="6" dy="-3.4">2</tspan><tspan dy="3.4">=0.18</tspan></text>
<g><circle cx="309.60" cy="193.60" r="2.4"/><circle cx="304.60" cy="213.60" r="2.4"/><circle cx="296.60" cy="217.60" r="2.4"/><circle cx="365.60" cy="225.00" r="2.4"/><circle cx="287.40" cy="195.80" r="2.4"/><circle cx="287.90" cy="206.20" r="2.4"/><circle cx="287.00" cy="214.80" r="2.4"/><circle cx="285.80" cy="229.10" r="2.4"/><circle cx="287.60" cy="239.40" r="2.4"/><rect x="296.10" y="203.70" width="4.6" height="4.6"/><rect x="343.30" y="206.10" width="4.6" height="4.6"/><rect x="314.70" y="214.10" width="4.6" height="4.6"/><rect x="350.10" y="216.10" width="4.6" height="4.6"/><rect x="302.70" y="222.70" width="4.6" height="4.6"/><rect x="318.10" y="219.30" width="4.6" height="4.6"/><rect x="358.30" y="223.70" width="4.6" height="4.6"/><rect x="358.30" y="229.30" width="4.6" height="4.6"/><rect x="319.70" y="229.30" width="4.6" height="4.6"/><rect x="341.30" y="228.10" width="4.6" height="4.6"/><rect x="301.10" y="231.70" width="4.6" height="4.6"/><rect x="313.10" y="239.30" width="4.6" height="4.6"/><rect x="363.30" y="240.70" width="4.6" height="4.6"/><rect x="285.70" y="273.60" width="4.6" height="4.6"/><rect x="364.90" y="191.10" width="5.0" height="5.0" class="o" stroke-width="1.25"/><rect x="302.50" y="198.50" width="5.0" height="5.0" class="o" stroke-width="1.25"/><rect x="331.10" y="215.90" width="5.0" height="5.0" class="o" stroke-width="1.25"/><rect x="296.10" y="220.50" width="5.0" height="5.0" class="o" stroke-width="1.25"/><rect x="339.50" y="222.10" width="5.0" height="5.0" class="o" stroke-width="1.25"/><rect x="329.90" y="226.50" width="5.0" height="5.0" class="o" stroke-width="1.25"/><rect x="324.50" y="230.50" width="5.0" height="5.0" class="o" stroke-width="1.25"/><rect x="292.50" y="239.10" width="5.0" height="5.0" class="o" stroke-width="1.25"/><rect x="286.20" y="220.20" width="5.0" height="5.0" class="o" stroke-width="1.25"/><circle cx="288.00" cy="242.90" r="2.6" class="o" stroke-width="1.25"/><circle cx="285.80" cy="249.20" r="2.6" class="o" stroke-width="1.25"/><circle cx="288.00" cy="251.80" r="2.6" class="o" stroke-width="1.25"/><circle cx="288.00" cy="263.00" r="2.6" class="o" stroke-width="1.25"/><path d="M359.00,178.40L361.30,182.61L356.70,182.61Z"/><path d="M386.00,191.00L388.30,195.21L383.70,195.21Z"/><path d="M343.60,189.80L345.90,194.01L341.30,194.01Z"/><path d="M317.00,197.40L319.30,201.61L314.70,201.61Z"/><path d="M332.00,199.40L334.30,203.61L329.70,203.61Z"/><path d="M343.60,199.40L345.90,203.61L341.30,203.61Z"/><path d="M327.00,205.00L329.30,209.21L324.70,209.21Z"/><path d="M337.40,209.00L339.70,213.21L335.10,213.21Z"/><path d="M376.00,215.00L378.30,219.21L373.70,219.21Z"/><path d="M384.40,211.00L386.70,215.21L382.10,215.21Z"/><path d="M345.00,219.00L347.30,223.21L342.70,223.21Z"/><path d="M341.00,226.40L343.30,230.61L338.70,230.61Z"/><path d="M312.00,233.80L314.30,238.01L309.70,238.01Z"/><path d="M349.00,236.40L351.30,240.61L346.70,240.61Z"/><path d="M286.20,199.00L288.50,203.21L283.90,203.21Z"/><path d="M286.20,231.00L288.50,235.21L283.90,235.21Z"/><path d="M288.90,231.90L291.20,236.11L286.60,236.11Z"/><path d="M289.80,254.60L292.10,258.81L287.50,258.81Z"/><path d="M286.20,267.00L288.50,271.21L283.90,271.21Z"/><path d="M291.60,266.10L293.90,270.31L289.30,270.31Z"/><path d="M288.00,243.00L290.70,247.86L285.30,247.86Z" class="o" stroke-width="1.1"/></g>
<path d="M287.00,235.00L385.00,203.75" stroke="#000" stroke-width="1.35" stroke-dasharray="5.5,3" fill="none"/>
<path d="M416.80,178.80V279.40H517.50" fill="none" stroke="#000" stroke-width="1.45"/>
<path d="M416.80,279.40v2.5 M450.37,279.40v2.5 M483.93,279.40v2.5 M517.50,279.40v2.5 M416.80,279.40h-2.6 M416.80,266.82h-2.6 M416.80,254.25h-2.6 M416.80,241.67h-2.6 M416.80,229.10h-2.6 M416.80,216.53h-2.6 M416.80,203.95h-2.6 M416.80,191.38h-2.6 M416.80,178.80h-2.6" stroke="#333" stroke-width="0.7" fill="none"/>
<text transform="translate(416.80,291.00) scale(1.0,1)" font-size="6.5" text-anchor="middle" class="k">5</text>
<text transform="translate(450.37,291.00) scale(1.0,1)" font-size="6.5" text-anchor="middle" class="k">6</text>
<text transform="translate(483.93,291.00) scale(1.0,1)" font-size="6.5" text-anchor="middle" class="k">7</text>
<text transform="translate(517.50,291.00) scale(1.0,1)" font-size="6.5" text-anchor="middle" class="k">8</text>
<text transform="translate(412.60,282.07) scale(0.93,1)" font-size="6.5" text-anchor="end" class="k">0</text>
<text transform="translate(412.60,269.50) scale(0.93,1)" font-size="6.5" text-anchor="end" class="k">10</text>
<text transform="translate(412.60,256.92) scale(0.93,1)" font-size="6.5" text-anchor="end" class="k">20</text>
<text transform="translate(412.60,244.35) scale(0.93,1)" font-size="6.5" text-anchor="end" class="k">30</text>
<text transform="translate(412.60,231.78) scale(0.93,1)" font-size="6.5" text-anchor="end" class="k">40</text>
<text transform="translate(412.60,219.20) scale(0.93,1)" font-size="6.5" text-anchor="end" class="k">50</text>
<text transform="translate(412.60,206.62) scale(0.93,1)" font-size="6.5" text-anchor="end" class="k">60</text>
<text transform="translate(412.60,194.05) scale(0.93,1)" font-size="6.5" text-anchor="end" class="k">70</text>
<text transform="translate(412.60,181.48) scale(0.93,1)" font-size="6.5" text-anchor="end" class="k">80</text>
<text transform="translate(468.70,304.00) scale(0.885,1)" font-size="8.4" text-anchor="middle" class="t">pH</text>
<text transform="translate(400.60,229.60) rotate(-90) scale(0.98,1)" font-size="7.6" text-anchor="middle" class="t" style="stroke-width:0.6">Platelet Recovery (%)</text>
<text transform="translate(426.40,172.60) scale(0.81,1)" font-size="9.8" class="t">r<tspan font-size="6" dy="-3.4">2</tspan><tspan dy="3.4">=0.08</tspan></text>
<g><circle cx="487.00" cy="186.00" r="2.4"/><circle cx="501.00" cy="196.50" r="2.4"/><circle cx="505.00" cy="194.00" r="2.4"/><circle cx="507.50" cy="201.50" r="2.4"/><circle cx="499.00" cy="204.00" r="2.4"/><circle cx="504.00" cy="206.00" r="2.4"/><circle cx="506.00" cy="207.50" r="2.4"/><circle cx="488.50" cy="206.50" r="2.4"/><circle cx="485.00" cy="213.00" r="2.4"/><circle cx="493.00" cy="212.50" r="2.4"/><circle cx="499.50" cy="213.50" r="2.4"/><circle cx="502.50" cy="215.00" r="2.4"/><circle cx="495.00" cy="216.00" r="2.4"/><circle cx="502.50" cy="219.00" r="2.4"/><circle cx="493.00" cy="221.50" r="2.4"/><circle cx="499.00" cy="222.50" r="2.4"/><circle cx="504.00" cy="223.50" r="2.4"/><circle cx="508.00" cy="225.00" r="2.4"/><circle cx="495.50" cy="225.50" r="2.4"/><circle cx="492.00" cy="229.00" r="2.4"/><circle cx="503.00" cy="229.00" r="2.4"/><circle cx="508.50" cy="230.50" r="2.4"/><circle cx="497.00" cy="231.00" r="2.4"/><circle cx="490.00" cy="236.00" r="2.4"/><circle cx="501.00" cy="235.50" r="2.4"/><circle cx="507.00" cy="235.50" r="2.4"/><circle cx="513.50" cy="238.00" r="2.4"/><circle cx="498.60" cy="251.00" r="2.4"/><rect x="451.70" y="274.70" width="4.6" height="4.6"/><rect x="461.70" y="273.30" width="4.6" height="4.6"/><rect x="473.70" y="255.70" width="4.6" height="4.6"/><rect x="460.70" y="238.70" width="4.6" height="4.6"/><rect x="477.70" y="240.70" width="4.6" height="4.6"/><rect x="465.10" y="232.10" width="4.6" height="4.6"/><rect x="470.70" y="229.70" width="4.6" height="4.6"/><rect x="478.30" y="232.10" width="4.6" height="4.6"/><rect x="469.70" y="214.30" width="4.6" height="4.6"/><rect x="465.10" y="204.10" width="4.6" height="4.6"/><rect x="479.70" y="206.70" width="4.6" height="4.6"/><rect x="480.70" y="216.20" width="4.6" height="4.6"/><rect x="468.50" y="239.10" width="5.0" height="5.0" class="o" stroke-width="1.25"/><rect x="470.50" y="245.50" width="5.0" height="5.0" class="o" stroke-width="1.25"/><rect x="476.90" y="226.50" width="5.0" height="5.0" class="o" stroke-width="1.25"/><rect x="468.10" y="220.50" width="5.0" height="5.0" class="o" stroke-width="1.25"/><rect x="475.50" y="216.50" width="5.0" height="5.0" class="o" stroke-width="1.25"/><rect x="473.10" y="198.50" width="5.0" height="5.0" class="o" stroke-width="1.25"/><rect x="485.00" y="192.00" width="5.0" height="5.0" class="o" stroke-width="1.25"/><rect x="483.50" y="221.50" width="5.0" height="5.0" class="o" stroke-width="1.25"/><rect x="484.50" y="231.00" width="5.0" height="5.0" class="o" stroke-width="1.25"/><circle cx="501.40" cy="241.00" r="2.6" class="o" stroke-width="1.25"/><circle cx="506.00" cy="239.60" r="2.6" class="o" stroke-width="1.25"/><circle cx="503.00" cy="244.00" r="2.6" class="o" stroke-width="1.25"/><circle cx="512.00" cy="249.00" r="2.6" class="o" stroke-width="1.25"/><circle cx="509.00" cy="252.00" r="2.6" class="o" stroke-width="1.25"/><circle cx="502.60" cy="254.60" r="2.6" class="o" stroke-width="1.25"/><circle cx="502.00" cy="263.00" r="2.6" class="o" stroke-width="1.25"/><path d="M442.00,205.00L444.30,209.21L439.70,209.21Z"/><path d="M453.60,215.40L455.90,219.61L451.30,219.61Z"/><path d="M442.00,242.00L444.30,246.21L439.70,246.21Z"/><path d="M461.00,260.80L463.30,265.01L458.70,265.01Z"/><path d="M465.60,267.00L467.90,271.21L463.30,271.21Z"/><path d="M461.00,244.40L463.30,248.61L458.70,248.61Z"/><path d="M478.00,199.40L480.30,203.61L475.70,203.61Z"/><path d="M476.00,205.00L478.30,209.21L473.70,209.21Z"/><path d="M513.00,197.40L515.30,201.61L510.70,201.61Z"/><path d="M496.00,243.80L498.30,248.01L493.70,248.01Z"/><path d="M487.00,237.00L489.30,241.21L484.70,241.21Z"/><path d="M495.00,199.40L497.30,203.61L492.70,203.61Z"/><path d="M495.00,235.40L497.30,239.61L492.70,239.61Z"/><circle cx="487.50" cy="183.30" r="2.6" class="o" stroke-width="1.25"/><circle cx="487.50" cy="187.50" r="2.4"/><path d="M450.00,254.60L452.70,259.46L447.30,259.46Z" class="o" stroke-width="1.1"/><path d="M493.50,203.50L496.20,208.36L490.80,208.36Z" class="o" stroke-width="1.1"/><path d="M486.50,216.50L489.20,221.36L483.80,221.36Z" class="o" stroke-width="1.1"/><path d="M487.50,227.00L490.20,231.86L484.80,231.86Z" class="o" stroke-width="1.1"/></g>
<path d="M441.25,242.50L512.50,216.25" stroke="#000" stroke-width="1.35" stroke-dasharray="5.5,3" fill="none"/>
<path d="M79.00,334.30V436.30H181.75" fill="none" stroke="#000" stroke-width="1.45"/>
<path d="M79.00,436.30v2.5 M89.28,436.30v2.5 M99.55,436.30v2.5 M109.83,436.30v2.5 M120.10,436.30v2.5 M130.38,436.30v2.5 M140.65,436.30v2.5 M150.93,436.30v2.5 M161.20,436.30v2.5 M171.47,436.30v2.5 M181.75,436.30v2.5 M79.00,436.30h-2.6 M79.00,424.97h-2.6 M79.00,413.63h-2.6 M79.00,402.30h-2.6 M79.00,390.97h-2.6 M79.00,379.63h-2.6 M79.00,368.30h-2.6 M79.00,356.97h-2.6 M79.00,345.63h-2.6 M79.00,334.30h-2.6" stroke="#333" stroke-width="0.7" fill="none"/>
<text transform="translate(79.00,447.90) scale(0.78,1)" font-size="7.2" text-anchor="middle" class="k">0</text>
<text transform="translate(89.28,447.90) scale(0.78,1)" font-size="7.2" text-anchor="middle" class="k">10</text>
<text transform="translate(99.55,447.90) scale(0.78,1)" font-size="7.2" text-anchor="middle" class="k">20</text>
<text transform="translate(109.83,447.90) scale(0.78,1)" font-size="7.2" text-anchor="middle" class="k">30</text>
<text transform="translate(120.10,447.90) scale(0.78,1)" font-size="7.2" text-anchor="middle" class="k">40</text>
<text transform="translate(130.38,447.90) scale(0.78,1)" font-size="7.2" text-anchor="middle" class="k">50</text>
<text transform="translate(140.65,447.90) scale(0.78,1)" font-size="7.2" text-anchor="middle" class="k">60</text>
<text transform="translate(150.93,447.90) scale(0.78,1)" font-size="7.2" text-anchor="middle" class="k">70</text>
<text transform="translate(161.20,447.90) scale(0.78,1)" font-size="7.2" text-anchor="middle" class="k">80</text>
<text transform="translate(171.47,447.90) scale(0.78,1)" font-size="7.2" text-anchor="middle" class="k">90</text>
<text transform="translate(181.75,447.90) scale(0.78,1)" font-size="7.2" text-anchor="middle" class="k">100</text>
<text transform="translate(74.80,438.97) scale(0.93,1)" font-size="6.5" text-anchor="end" class="k">0</text>
<text transform="translate(74.80,427.64) scale(0.93,1)" font-size="6.5" text-anchor="end" class="k">1</text>
<text transform="translate(74.80,416.31) scale(0.93,1)" font-size="6.5" text-anchor="end" class="k">2</text>
<text transform="translate(74.80,404.97) scale(0.93,1)" font-size="6.5" text-anchor="end" class="k">3</text>
<text transform="translate(74.80,393.64) scale(0.93,1)" font-size="6.5" text-anchor="end" class="k">4</text>
<text transform="translate(74.80,382.31) scale(0.93,1)" font-size="6.5" text-anchor="end" class="k">5</text>
<text transform="translate(74.80,370.97) scale(0.93,1)" font-size="6.5" text-anchor="end" class="k">6</text>
<text transform="translate(74.80,359.64) scale(0.93,1)" font-size="6.5" text-anchor="end" class="k">7</text>
<text transform="translate(74.80,348.31) scale(0.93,1)" font-size="6.5" text-anchor="end" class="k">8</text>
<text transform="translate(74.80,336.97) scale(0.93,1)" font-size="6.5" text-anchor="end" class="k">9</text>
<text transform="translate(130.30,461.30) scale(0.885,1)" font-size="8.4" text-anchor="middle" class="t">Annexin V Binding (%)</text>
<text transform="translate(64.70,386.80) rotate(-90) scale(0.98,1)" font-size="7.6" text-anchor="middle" class="t" style="stroke-width:0.6">Platelet Survival (Days)</text>
<text transform="translate(92.20,327.60) scale(0.81,1)" font-size="9.8" class="t">r<tspan font-size="6" dy="-3.4">2</tspan><tspan dy="3.4">=0.41</tspan></text>
<g><circle cx="97.00" cy="336.00" r="2.4"/><circle cx="92.40" cy="344.00" r="2.4"/><circle cx="97.40" cy="346.60" r="2.4"/><circle cx="113.00" cy="349.00" r="2.4"/><circle cx="90.00" cy="356.60" r="2.4"/><circle cx="106.40" cy="357.00" r="2.4"/><circle cx="117.40" cy="362.00" r="2.4"/><circle cx="106.40" cy="364.60" r="2.4"/><circle cx="120.00" cy="380.00" r="2.4"/><circle cx="121.00" cy="384.60" r="2.4"/><circle cx="138.00" cy="408.00" r="2.4"/><circle cx="134.40" cy="416.00" r="2.4"/><circle cx="130.40" cy="408.60" r="2.4"/><circle cx="112.40" cy="404.00" r="2.4"/><circle cx="118.00" cy="403.40" r="2.4"/><circle cx="115.00" cy="410.00" r="2.4"/><circle cx="100.00" cy="359.00" r="2.4"/><circle cx="97.50" cy="368.50" r="2.4"/><circle cx="89.00" cy="372.00" r="2.4"/><circle cx="95.00" cy="374.50" r="2.4"/><circle cx="111.00" cy="379.00" r="2.4"/><circle cx="99.00" cy="379.50" r="2.4"/><circle cx="113.50" cy="381.00" r="2.4"/><circle cx="101.00" cy="385.00" r="2.4"/><circle cx="106.00" cy="386.00" r="2.4"/><circle cx="111.00" cy="387.00" r="2.4"/><circle cx="103.00" cy="390.00" r="2.4"/><circle cx="108.50" cy="390.50" r="2.4"/><circle cx="91.00" cy="392.50" r="2.4"/><circle cx="113.50" cy="393.00" r="2.4"/><circle cx="96.00" cy="396.50" r="2.4"/><circle cx="105.50" cy="397.50" r="2.4"/><circle cx="105.50" cy="394.50" r="2.4"/><rect x="145.30" y="408.30" width="4.6" height="4.6"/><rect x="172.70" y="428.10" width="4.6" height="4.6"/><rect x="127.30" y="428.70" width="4.6" height="4.6"/><rect x="128.10" y="414.70" width="4.6" height="4.6"/><rect x="97.20" y="398.70" width="4.6" height="4.6"/><rect x="81.70" y="370.20" width="4.6" height="4.6"/><rect x="94.20" y="376.70" width="4.6" height="4.6"/><rect x="94.50" y="360.00" width="5.0" height="5.0" class="o" stroke-width="1.25"/><rect x="103.50" y="371.00" width="5.0" height="5.0" class="o" stroke-width="1.25"/><rect x="89.00" y="375.00" width="5.0" height="5.0" class="o" stroke-width="1.25"/><rect x="103.00" y="375.00" width="5.0" height="5.0" class="o" stroke-width="1.25"/><rect x="89.50" y="379.50" width="5.0" height="5.0" class="o" stroke-width="1.25"/><rect x="85.00" y="383.00" width="5.0" height="5.0" class="o" stroke-width="1.25"/><rect x="92.50" y="386.50" width="5.0" height="5.0" class="o" stroke-width="1.25"/><circle cx="149.60" cy="418.60" r="2.6" class="o" stroke-width="1.25"/><circle cx="127.00" cy="408.60" r="2.6" class="o" stroke-width="1.25"/><circle cx="119.00" cy="414.00" r="2.6" class="o" stroke-width="1.25"/><circle cx="121.00" cy="416.00" r="2.6" class="o" stroke-width="1.25"/><circle cx="104.00" cy="413.00" r="2.6" class="o" stroke-width="1.25"/><circle cx="105.00" cy="406.00" r="2.6" class="o" stroke-width="1.25"/><circle cx="114.00" cy="407.40" r="2.6" class="o" stroke-width="1.25"/><path d="M86.00,352.80L88.30,357.01L83.70,357.01Z"/><path d="M117.00,354.80L119.30,359.01L114.70,359.01Z"/><path d="M137.00,400.40L139.30,404.61L134.70,404.61Z"/><path d="M141.60,409.40L143.90,413.61L139.30,413.61Z"/><path d="M164.40,415.40L166.70,419.61L162.10,419.61Z"/><path d="M176.00,414.80L178.30,419.01L173.70,419.01Z"/><path d="M179.00,422.40L181.30,426.61L176.70,426.61Z"/><path d="M181.00,428.40L183.30,432.61L178.70,432.61Z"/><path d="M144.00,416.00L146.30,420.21L141.70,420.21Z"/><path d="M126.60,413.40L128.90,417.61L124.30,417.61Z"/><path d="M115.40,416.80L117.70,421.01L113.10,421.01Z"/><path d="M88.50,361.90L90.80,366.11L86.20,366.11Z"/><path d="M87.00,376.90L89.30,381.11L84.70,381.11Z"/><path d="M97.00,381.40L99.30,385.61L94.70,385.61Z"/><path d="M131.60,344.00L134.30,348.86L128.90,348.86Z" class="o" stroke-width="1.1"/><path d="M180.40,392.40L183.10,397.26L177.70,397.26Z" class="o" stroke-width="1.1"/><path d="M100.00,368.50L102.70,373.36L97.30,373.36Z" class="o" stroke-width="1.1"/><path d="M109.50,391.00L112.20,395.86L106.80,395.86Z" class="o" stroke-width="1.1"/><path d="M99.00,393.50L101.70,398.36L96.30,398.36Z" class="o" stroke-width="1.1"/><path d="M98.50,389.50L101.20,394.36L95.80,394.36Z" class="o" stroke-width="1.1"/><circle cx="87.00" cy="376.00" r="2.4"/><path d="M86.00,364.40L88.30,368.61L83.70,368.61Z"/></g>
<path d="M100.00,380.80L175.00,425.80" stroke="#000" stroke-width="1.35" stroke-dasharray="5.5,3" fill="none"/>
<path d="M215.00,334.00V436.00H317.50" fill="none" stroke="#000" stroke-width="1.45"/>
<path d="M215.00,436.00v2.5 M240.62,436.00v2.5 M266.25,436.00v2.5 M291.88,436.00v2.5 M317.50,436.00v2.5 M215.00,436.00h-2.6 M215.00,424.67h-2.6 M215.00,413.33h-2.6 M215.00,402.00h-2.6 M215.00,390.67h-2.6 M215.00,379.33h-2.6 M215.00,368.00h-2.6 M215.00,356.67h-2.6 M215.00,345.33h-2.6 M215.00,334.00h-2.6" stroke="#333" stroke-width="0.7" fill="none"/>
<text transform="translate(215.00,447.60) scale(1.0,1)" font-size="6.5" text-anchor="middle" class="k">0</text>
<text transform="translate(240.62,447.60) scale(1.0,1)" font-size="6.5" text-anchor="middle" class="k">10</text>
<text transform="translate(266.25,447.60) scale(1.0,1)" font-size="6.5" text-anchor="middle" class="k">20</text>
<text transform="translate(291.88,447.60) scale(1.0,1)" font-size="6.5" text-anchor="middle" class="k">30</text>
<text transform="translate(317.50,447.60) scale(1.0,1)" font-size="6.5" text-anchor="middle" class="k">40</text>
<text transform="translate(210.80,438.67) scale(0.93,1)" font-size="6.5" text-anchor="end" class="k">0</text>
<text transform="translate(210.80,427.34) scale(0.93,1)" font-size="6.5" text-anchor="end" class="k">1</text>
<text transform="translate(210.80,416.01) scale(0.93,1)" font-size="6.5" text-anchor="end" class="k">2</text>
<text transform="translate(210.80,404.67) scale(0.93,1)" font-size="6.5" text-anchor="end" class="k">3</text>
<text transform="translate(210.80,393.34) scale(0.93,1)" font-size="6.5" text-anchor="end" class="k">4</text>
<text transform="translate(210.80,382.01) scale(0.93,1)" font-size="6.5" text-anchor="end" class="k">5</text>
<text transform="translate(210.80,370.67) scale(0.93,1)" font-size="6.5" text-anchor="end" class="k">6</text>
<text transform="translate(210.80,359.34) scale(0.93,1)" font-size="6.5" text-anchor="end" class="k">7</text>
<text transform="translate(210.80,348.01) scale(0.93,1)" font-size="6.5" text-anchor="end" class="k">8</text>
<text transform="translate(210.80,336.67) scale(0.93,1)" font-size="6.5" text-anchor="end" class="k">9</text>
<text transform="translate(267.30,461.30) scale(0.885,1)" font-size="8.4" text-anchor="middle" class="t">Extent of Shape Change (%)</text>
<text transform="translate(202.40,385.80) rotate(-90) scale(0.98,1)" font-size="7.6" text-anchor="middle" class="t" style="stroke-width:0.6">Platelet Survival (Days)</text>
<text transform="translate(230.20,327.60) scale(0.81,1)" font-size="9.8" class="t">r<tspan font-size="6" dy="-3.4">2</tspan><tspan dy="3.4">=0.37</tspan></text>
<g><circle cx="305.00" cy="335.60" r="2.4"/><circle cx="262.00" cy="346.00" r="2.4"/><circle cx="265.60" cy="343.60" r="2.4"/><circle cx="260.00" cy="358.50" r="2.4"/><circle cx="276.50" cy="356.50" r="2.4"/><circle cx="265.50" cy="364.00" r="2.4"/><circle cx="275.00" cy="363.00" r="2.4"/><circle cx="250.00" cy="371.00" r="2.4"/><circle cx="263.00" cy="371.00" r="2.4"/><circle cx="277.00" cy="372.00" r="2.4"/><circle cx="286.00" cy="374.00" r="2.4"/><circle cx="285.00" cy="396.00" r="2.4"/><circle cx="235.50" cy="378.00" r="2.4"/><circle cx="252.50" cy="377.50" r="2.4"/><circle cx="258.00" cy="379.50" r="2.4"/><circle cx="268.00" cy="377.50" r="2.4"/><circle cx="271.50" cy="379.00" r="2.4"/><circle cx="267.50" cy="383.50" r="2.4"/><circle cx="261.00" cy="382.50" r="2.4"/><circle cx="237.00" cy="382.50" r="2.4"/><circle cx="247.00" cy="384.00" r="2.4"/><circle cx="259.00" cy="386.50" r="2.4"/><circle cx="242.50" cy="389.00" r="2.4"/><circle cx="238.50" cy="391.00" r="2.4"/><circle cx="246.50" cy="393.50" r="2.4"/><circle cx="252.50" cy="396.50" r="2.4"/><circle cx="250.50" cy="402.50" r="2.4"/><circle cx="246.00" cy="381.00" r="2.4"/><circle cx="235.00" cy="405.00" r="2.4"/><rect x="251.70" y="353.70" width="4.6" height="4.6"/><rect x="251.20" y="358.70" width="4.6" height="4.6"/><rect x="257.70" y="362.70" width="4.6" height="4.6"/><rect x="233.20" y="367.20" width="4.6" height="4.6"/><rect x="237.20" y="367.70" width="4.6" height="4.6"/><rect x="253.20" y="369.70" width="4.6" height="4.6"/><rect x="254.70" y="372.70" width="4.6" height="4.6"/><rect x="238.70" y="382.20" width="4.6" height="4.6"/><rect x="251.70" y="384.20" width="4.6" height="4.6"/><rect x="228.70" y="385.20" width="4.6" height="4.6"/><rect x="230.70" y="396.70" width="4.6" height="4.6"/><rect x="224.70" y="407.10" width="4.6" height="4.6"/><rect x="219.30" y="427.70" width="4.6" height="4.6"/><rect x="229.30" y="427.10" width="4.6" height="4.6"/><rect x="232.70" y="402.20" width="4.6" height="4.6"/><rect x="239.00" y="359.00" width="5.0" height="5.0" class="o" stroke-width="1.25"/><rect x="243.00" y="370.00" width="5.0" height="5.0" class="o" stroke-width="1.25"/><rect x="239.00" y="375.30" width="5.0" height="5.0" class="o" stroke-width="1.25"/><rect x="249.00" y="379.00" width="5.0" height="5.0" class="o" stroke-width="1.25"/><rect x="247.00" y="384.50" width="5.0" height="5.0" class="o" stroke-width="1.25"/><rect x="234.00" y="390.50" width="5.0" height="5.0" class="o" stroke-width="1.25"/><rect x="246.50" y="389.50" width="5.0" height="5.0" class="o" stroke-width="1.25"/><circle cx="220.00" cy="407.40" r="2.6" class="o" stroke-width="1.25"/><circle cx="230.00" cy="406.00" r="2.6" class="o" stroke-width="1.25"/><circle cx="235.00" cy="411.40" r="2.6" class="o" stroke-width="1.25"/><circle cx="218.00" cy="414.00" r="2.6" class="o" stroke-width="1.25"/><path d="M224.40,354.00L226.70,358.21L222.10,358.21Z"/><path d="M265.00,352.00L267.30,356.21L262.70,356.21Z"/><path d="M233.00,369.40L235.30,373.61L230.70,373.61Z"/><path d="M230.00,390.40L232.30,394.61L227.70,394.61Z"/><path d="M231.50,398.40L233.80,402.61L229.20,402.61Z"/><path d="M244.00,404.40L246.30,408.61L241.70,408.61Z"/><path d="M241.60,343.60L244.30,348.46L238.90,348.46Z" class="o" stroke-width="1.1"/><path d="M226.40,367.00L229.10,371.86L223.70,371.86Z" class="o" stroke-width="1.1"/><path d="M244.00,400.50L246.70,405.36L241.30,405.36Z" class="o" stroke-width="1.1"/><path d="M249.50,361.90L251.80,366.11L247.20,366.11Z"/></g>
<path d="M217.50,404.20L303.50,341.50" stroke="#000" stroke-width="1.35" stroke-dasharray="5.5,3" fill="none"/>
<path d="M351.80,334.30V436.30H454.50" fill="none" stroke="#000" stroke-width="1.45"/>
<path d="M351.80,436.30v2.5 M362.07,436.30v2.5 M372.34,436.30v2.5 M382.61,436.30v2.5 M392.88,436.30v2.5 M403.15,436.30v2.5 M413.42,436.30v2.5 M423.69,436.30v2.5 M433.96,436.30v2.5 M444.23,436.30v2.5 M454.50,436.30v2.5 M351.80,436.30h-2.6 M351.80,424.97h-2.6 M351.80,413.63h-2.6 M351.80,402.30h-2.6 M351.80,390.97h-2.6 M351.80,379.63h-2.6 M351.80,368.30h-2.6 M351.80,356.97h-2.6 M351.80,345.63h-2.6 M351.80,334.30h-2.6" stroke="#333" stroke-width="0.7" fill="none"/>
<text transform="translate(351.80,447.90) scale(0.78,1)" font-size="7.2" text-anchor="middle" class="k">0</text>
<text transform="translate(362.07,447.90) scale(0.78,1)" font-size="7.2" text-anchor="middle" class="k">10</text>
<text transform="translate(372.34,447.90) scale(0.78,1)" font-size="7.2" text-anchor="middle" class="k">20</text>
<text transform="translate(382.61,447.90) scale(0.78,1)" font-size="7.2" text-anchor="middle" class="k">30</text>
<text transform="translate(392.88,447.90) scale(0.78,1)" font-size="7.2" text-anchor="middle" class="k">40</text>
<text transform="translate(403.15,447.90) scale(0.78,1)" font-size="7.2" text-anchor="middle" class="k">50</text>
<text transform="translate(413.42,447.90) scale(0.78,1)" font-size="7.2" text-anchor="middle" class="k">60</text>
<text transform="translate(423.69,447.90) scale(0.78,1)" font-size="7.2" text-anchor="middle" class="k">70</text>
<text transform="translate(433.96,447.90) scale(0.78,1)" font-size="7.2" text-anchor="middle" class="k">80</text>
<text transform="translate(444.23,447.90) scale(0.78,1)" font-size="7.2" text-anchor="middle" class="k">90</text>
<text transform="translate(454.50,447.90) scale(0.78,1)" font-size="7.2" text-anchor="middle" class="k">100</text>
<text transform="translate(347.60,438.97) scale(0.93,1)" font-size="6.5" text-anchor="end" class="k">0</text>
<text transform="translate(347.60,427.64) scale(0.93,1)" font-size="6.5" text-anchor="end" class="k">1</text>
<text transform="translate(347.60,416.31) scale(0.93,1)" font-size="6.5" text-anchor="end" class="k">2</text>
<text transform="translate(347.60,404.97) scale(0.93,1)" font-size="6.5" text-anchor="end" class="k">3</text>
<text transform="translate(347.60,393.64) scale(0.93,1)" font-size="6.5" text-anchor="end" class="k">4</text>
<text transform="translate(347.60,382.31) scale(0.93,1)" font-size="6.5" text-anchor="end" class="k">5</text>
<text transform="translate(347.60,370.97) scale(0.93,1)" font-size="6.5" text-anchor="end" class="k">6</text>
<text transform="translate(347.60,359.64) scale(0.93,1)" font-size="6.5" text-anchor="end" class="k">7</text>
<text transform="translate(347.60,348.31) scale(0.93,1)" font-size="6.5" text-anchor="end" class="k">8</text>
<text transform="translate(347.60,336.97) scale(0.93,1)" font-size="6.5" text-anchor="end" class="k">9</text>
<text transform="translate(403.50,460.80) scale(0.885,1)" font-size="8.4" text-anchor="middle" class="t">Hypotonic Shock Response (%)</text>
<text transform="translate(337.70,386.40) rotate(-90) scale(0.98,1)" font-size="7.6" text-anchor="middle" class="t" style="stroke-width:0.6">Platelet Survival (Days)</text>
<text transform="translate(365.20,327.60) scale(0.81,1)" font-size="9.8" class="t">r<tspan font-size="6" dy="-3.4">2</tspan><tspan dy="3.4">=0.16</tspan></text>
<g><circle cx="435.40" cy="336.00" r="2.4"/><circle cx="429.50" cy="344.20" r="2.4"/><circle cx="434.50" cy="346.50" r="2.4"/><circle cx="390.60" cy="348.60" r="2.4"/><circle cx="426.50" cy="359.00" r="2.4"/><circle cx="441.50" cy="358.00" r="2.4"/><circle cx="420.50" cy="364.50" r="2.4"/><circle cx="428.00" cy="364.80" r="2.4"/><circle cx="432.00" cy="365.00" r="2.4"/><circle cx="451.50" cy="364.80" r="2.4"/><circle cx="420.00" cy="369.50" r="2.4"/><circle cx="434.00" cy="371.80" r="2.4"/><circle cx="439.00" cy="368.00" r="2.4"/><circle cx="440.50" cy="379.50" r="2.4"/><circle cx="446.50" cy="379.50" r="2.4"/><circle cx="437.50" cy="380.50" r="2.4"/><circle cx="451.00" cy="378.50" r="2.4"/><circle cx="455.00" cy="378.50" r="2.4"/><circle cx="443.00" cy="384.00" r="2.4"/><circle cx="454.50" cy="384.00" r="2.4"/><circle cx="454.50" cy="387.00" r="2.4"/><circle cx="431.50" cy="387.50" r="2.4"/><circle cx="435.50" cy="389.50" r="2.4"/><circle cx="418.00" cy="380.50" r="2.4"/><circle cx="454.50" cy="391.00" r="2.4"/><circle cx="398.40" cy="378.60" r="2.4"/><circle cx="372.60" cy="392.00" r="2.4"/><circle cx="413.60" cy="394.00" r="2.4"/><circle cx="425.00" cy="393.00" r="2.4"/><circle cx="429.40" cy="396.60" r="2.4"/><circle cx="434.00" cy="397.40" r="2.4"/><circle cx="436.00" cy="403.00" r="2.4"/><circle cx="425.00" cy="405.00" r="2.4"/><circle cx="447.40" cy="410.00" r="2.4"/><circle cx="405.00" cy="403.40" r="2.4"/><circle cx="401.00" cy="408.00" r="2.4"/><circle cx="409.40" cy="409.00" r="2.4"/><circle cx="373.40" cy="415.40" r="2.4"/><rect x="373.70" y="363.10" width="4.6" height="4.6"/><rect x="379.10" y="367.70" width="4.6" height="4.6"/><rect x="357.10" y="370.30" width="4.6" height="4.6"/><rect x="436.70" y="367.70" width="4.6" height="4.6"/><rect x="438.70" y="372.20" width="4.6" height="4.6"/><rect x="427.20" y="377.20" width="4.6" height="4.6"/><rect x="423.20" y="383.20" width="4.6" height="4.6"/><rect x="371.10" y="377.70" width="4.6" height="4.6"/><rect x="358.70" y="383.70" width="4.6" height="4.6"/><rect x="364.30" y="385.70" width="4.6" height="4.6"/><rect x="367.70" y="383.10" width="4.6" height="4.6"/><rect x="372.70" y="383.10" width="4.6" height="4.6"/><rect x="385.70" y="384.70" width="4.6" height="4.6"/><rect x="392.30" y="384.70" width="4.6" height="4.6"/><rect x="390.70" y="398.70" width="4.6" height="4.6"/><rect x="404.50" y="360.10" width="5.0" height="5.0" class="o" stroke-width="1.25"/><rect x="408.10" y="359.50" width="5.0" height="5.0" class="o" stroke-width="1.25"/><rect x="413.50" y="371.50" width="5.0" height="5.0" class="o" stroke-width="1.25"/><rect x="382.10" y="374.50" width="5.0" height="5.0" class="o" stroke-width="1.25"/><rect x="386.50" y="374.50" width="5.0" height="5.0" class="o" stroke-width="1.25"/><rect x="385.50" y="380.10" width="5.0" height="5.0" class="o" stroke-width="1.25"/><rect x="406.50" y="376.10" width="5.0" height="5.0" class="o" stroke-width="1.25"/><rect x="383.50" y="383.50" width="5.0" height="5.0" class="o" stroke-width="1.25"/><rect x="384.50" y="388.50" width="5.0" height="5.0" class="o" stroke-width="1.25"/><rect x="400.90" y="388.90" width="5.0" height="5.0" class="o" stroke-width="1.25"/><circle cx="374.60" cy="408.00" r="2.6" class="o" stroke-width="1.25"/><circle cx="380.60" cy="405.40" r="2.6" class="o" stroke-width="1.25"/><circle cx="392.60" cy="407.00" r="2.6" class="o" stroke-width="1.25"/><circle cx="389.40" cy="412.60" r="2.6" class="o" stroke-width="1.25"/><circle cx="379.00" cy="413.60" r="2.6" class="o" stroke-width="1.25"/><circle cx="361.40" cy="418.60" r="2.6" class="o" stroke-width="1.25"/><circle cx="368.00" cy="416.00" r="2.6" class="o" stroke-width="1.25"/><path d="M397.60,354.40L399.90,358.61L395.30,358.61Z"/><path d="M429.50,352.90L431.80,357.11L427.20,357.11Z"/><path d="M425.50,369.40L427.80,373.61L423.20,373.61Z"/><path d="M415.00,368.00L417.30,372.21L412.70,372.21Z"/><path d="M409.60,371.40L411.90,375.61L407.30,375.61Z"/><path d="M414.60,378.40L416.90,382.61L412.30,382.61Z"/><path d="M398.40,383.40L400.70,387.61L396.10,387.61Z"/><path d="M398.00,388.40L400.30,392.61L395.70,392.61Z"/><path d="M386.60,406.00L388.90,410.21L384.30,410.21Z"/><path d="M384.00,412.80L386.30,417.01L381.70,417.01Z"/><path d="M378.60,416.80L380.90,421.01L376.30,421.01Z"/><path d="M354.60,414.40L356.90,418.61L352.30,418.61Z"/><path d="M418.50,382.90L420.80,387.11L416.20,387.11Z"/><path d="M407.40,343.60L410.10,348.46L404.70,348.46Z" class="o" stroke-width="1.1"/><path d="M396.00,367.60L398.70,372.46L393.30,372.46Z" class="o" stroke-width="1.1"/><path d="M387.00,390.40L389.70,395.26L384.30,395.26Z" class="o" stroke-width="1.1"/><path d="M402.00,393.60L404.70,398.46L399.30,398.46Z" class="o" stroke-width="1.1"/></g>
<path d="M355.00,399.50L455.00,370.75" stroke="#000" stroke-width="1.35" stroke-dasharray="5.5,3" fill="none"/>
<path d="M19.80,500.30V601.80H120.80" fill="none" stroke="#000" stroke-width="1.45"/>
<path d="M19.80,601.80v2.5 M45.05,601.80v2.5 M70.30,601.80v2.5 M95.55,601.80v2.5 M120.80,601.80v2.5 M19.80,601.80h-2.6 M19.80,590.52h-2.6 M19.80,579.24h-2.6 M19.80,567.97h-2.6 M19.80,556.69h-2.6 M19.80,545.41h-2.6 M19.80,534.13h-2.6 M19.80,522.86h-2.6 M19.80,511.58h-2.6 M19.80,500.30h-2.6" stroke="#333" stroke-width="0.7" fill="none"/>
<text transform="translate(19.80,614.00) scale(1.0,1)" font-size="6.5" text-anchor="middle" class="k">0</text>
<text transform="translate(45.05,614.00) scale(1.0,1)" font-size="6.5" text-anchor="middle" class="k">10</text>
<text transform="translate(70.30,614.00) scale(1.0,1)" font-size="6.5" text-anchor="middle" class="k">20</text>
<text transform="translate(95.55,614.00) scale(1.0,1)" font-size="6.5" text-anchor="middle" class="k">30</text>
<text transform="translate(120.80,614.00) scale(1.0,1)" font-size="6.5" text-anchor="middle" class="k">40</text>
<text transform="translate(15.60,604.47) scale(0.93,1)" font-size="6.5" text-anchor="end" class="k">0</text>
<text transform="translate(15.60,593.20) scale(0.93,1)" font-size="6.5" text-anchor="end" class="k">1</text>
<text transform="translate(15.60,581.92) scale(0.93,1)" font-size="6.5" text-anchor="end" class="k">2</text>
<text transform="translate(15.60,570.64) scale(0.93,1)" font-size="6.5" text-anchor="end" class="k">3</text>
<text transform="translate(15.60,559.36) scale(0.93,1)" font-size="6.5" text-anchor="end" class="k">4</text>
<text transform="translate(15.60,548.09) scale(0.93,1)" font-size="6.5" text-anchor="end" class="k">5</text>
<text transform="translate(15.60,536.81) scale(0.93,1)" font-size="6.5" text-anchor="end" class="k">6</text>
<text transform="translate(15.60,525.53) scale(0.93,1)" font-size="6.5" text-anchor="end" class="k">7</text>
<text transform="translate(15.60,514.25) scale(0.93,1)" font-size="6.5" text-anchor="end" class="k">8</text>
<text transform="translate(15.60,502.97) scale(0.93,1)" font-size="6.5" text-anchor="end" class="k">9</text>
<text transform="translate(70.80,626.10) scale(0.885,1)" font-size="8.4" text-anchor="middle" class="t">pCO<tspan font-size="5.2" dy="1.8">2</tspan><tspan dy="-1.8"> (mmHg)</tspan></text>
<text transform="translate(5.70,551.00) rotate(-90) scale(0.98,1)" font-size="7.6" text-anchor="middle" class="t" style="stroke-width:0.6">Platelet Survival (Days)</text>
<text transform="translate(33.20,493.60) scale(0.81,1)" font-size="9.8" class="t">r<tspan font-size="6" dy="-3.4">2</tspan><tspan dy="3.4">=0.25</tspan></text>
<g><circle cx="90.40" cy="502.00" r="2.4"/><circle cx="62.00" cy="510.40" r="2.4"/><circle cx="79.60" cy="514.60" r="2.4"/><circle cx="92.40" cy="522.40" r="2.4"/><circle cx="97.00" cy="530.40" r="2.4"/><circle cx="101.00" cy="531.00" r="2.4"/><circle cx="105.00" cy="529.60" r="2.4"/><circle cx="112.00" cy="534.00" r="2.4"/><circle cx="89.60" cy="535.00" r="2.4"/><circle cx="81.60" cy="537.00" r="2.4"/><circle cx="85.60" cy="540.60" r="2.4"/><circle cx="99.00" cy="546.00" r="2.4"/><circle cx="84.00" cy="548.60" r="2.4"/><circle cx="70.40" cy="544.40" r="2.4"/><circle cx="74.00" cy="562.00" r="2.4"/><circle cx="50.00" cy="551.00" r="2.4"/><circle cx="53.00" cy="559.00" r="2.4"/><circle cx="48.00" cy="568.40" r="2.4"/><circle cx="44.40" cy="581.60" r="2.4"/><rect x="30.10" y="543.10" width="4.6" height="4.6"/><rect x="45.70" y="525.30" width="4.6" height="4.6"/><rect x="52.70" y="529.30" width="4.6" height="4.6"/><rect x="55.10" y="533.30" width="4.6" height="4.6"/><rect x="42.10" y="533.30" width="4.6" height="4.6"/><rect x="46.70" y="536.10" width="4.6" height="4.6"/><rect x="56.70" y="543.70" width="4.6" height="4.6"/><rect x="58.70" y="550.10" width="4.6" height="4.6"/><rect x="41.30" y="549.30" width="4.6" height="4.6"/><rect x="43.70" y="552.70" width="4.6" height="4.6"/><rect x="55.30" y="564.70" width="4.6" height="4.6"/><rect x="48.50" y="525.90" width="5.0" height="5.0" class="o" stroke-width="1.25"/><rect x="41.50" y="537.10" width="5.0" height="5.0" class="o" stroke-width="1.25"/><rect x="46.50" y="540.50" width="5.0" height="5.0" class="o" stroke-width="1.25"/><rect x="41.10" y="541.90" width="5.0" height="5.0" class="o" stroke-width="1.25"/><rect x="60.50" y="544.50" width="5.0" height="5.0" class="o" stroke-width="1.25"/><rect x="55.50" y="547.90" width="5.0" height="5.0" class="o" stroke-width="1.25"/><rect x="47.10" y="551.90" width="5.0" height="5.0" class="o" stroke-width="1.25"/><rect x="61.50" y="555.10" width="5.0" height="5.0" class="o" stroke-width="1.25"/><circle cx="72.50" cy="564.00" r="2.6" class="o" stroke-width="1.25"/><circle cx="48.00" cy="571.60" r="2.6" class="o" stroke-width="1.25"/><circle cx="38.00" cy="573.00" r="2.6" class="o" stroke-width="1.25"/><circle cx="43.60" cy="578.00" r="2.6" class="o" stroke-width="1.25"/><circle cx="32.40" cy="581.60" r="2.6" class="o" stroke-width="1.25"/><path d="M46.00,560.40L48.30,564.61L43.70,564.61Z"/></g>
<path d="M32.50,558.00L111.25,526.25" stroke="#000" stroke-width="1.35" stroke-dasharray="5.5,3" fill="none"/>
<path d="M150.50,500.60V601.80H252.00" fill="none" stroke="#000" stroke-width="1.45"/>
<path d="M150.50,601.80v2.5 M175.88,601.80v2.5 M201.25,601.80v2.5 M226.62,601.80v2.5 M252.00,601.80v2.5 M150.50,601.80h-2.6 M150.50,590.56h-2.6 M150.50,579.31h-2.6 M150.50,568.07h-2.6 M150.50,556.82h-2.6 M150.50,545.58h-2.6 M150.50,534.33h-2.6 M150.50,523.09h-2.6 M150.50,511.84h-2.6 M150.50,500.60h-2.6" stroke="#333" stroke-width="0.7" fill="none"/>
<text transform="translate(150.50,614.00) scale(1.0,1)" font-size="6.5" text-anchor="middle" class="k">0</text>
<text transform="translate(175.88,614.00) scale(1.0,1)" font-size="6.5" text-anchor="middle" class="k">50</text>
<text transform="translate(201.25,614.00) scale(1.0,1)" font-size="6.5" text-anchor="middle" class="k">100</text>
<text transform="translate(226.62,614.00) scale(1.0,1)" font-size="6.5" text-anchor="middle" class="k">150</text>
<text transform="translate(252.00,614.00) scale(1.0,1)" font-size="6.5" text-anchor="middle" class="k">200</text>
<text transform="translate(146.30,604.47) scale(0.93,1)" font-size="6.5" text-anchor="end" class="k">0</text>
<text transform="translate(146.30,593.23) scale(0.93,1)" font-size="6.5" text-anchor="end" class="k">1</text>
<text transform="translate(146.30,581.99) scale(0.93,1)" font-size="6.5" text-anchor="end" class="k">2</text>
<text transform="translate(146.30,570.74) scale(0.93,1)" font-size="6.5" text-anchor="end" class="k">3</text>
<text transform="translate(146.30,559.50) scale(0.93,1)" font-size="6.5" text-anchor="end" class="k">4</text>
<text transform="translate(146.30,548.25) scale(0.93,1)" font-size="6.5" text-anchor="end" class="k">5</text>
<text transform="translate(146.30,537.01) scale(0.93,1)" font-size="6.5" text-anchor="end" class="k">6</text>
<text transform="translate(146.30,525.76) scale(0.93,1)" font-size="6.5" text-anchor="end" class="k">7</text>
<text transform="translate(146.30,514.52) scale(0.93,1)" font-size="6.5" text-anchor="end" class="k">8</text>
<text transform="translate(146.30,503.27) scale(0.93,1)" font-size="6.5" text-anchor="end" class="k">9</text>
<text transform="translate(202.40,626.10) scale(0.885,1)" font-size="8.4" text-anchor="middle" class="t">pO<tspan font-size="5.2" dy="1.8">2</tspan><tspan dy="-1.8"> (mmHg)</tspan></text>
<text transform="translate(136.40,551.80) rotate(-90) scale(0.98,1)" font-size="7.6" text-anchor="middle" class="t" style="stroke-width:0.6">Platelet Survival (Days)</text>
<text transform="translate(162.70,493.60) scale(0.81,1)" font-size="9.8" class="t">r<tspan font-size="6" dy="-3.4">2</tspan><tspan dy="3.4">=0.30</tspan></text>
<g><circle cx="195.00" cy="503.00" r="2.4"/><circle cx="219.40" cy="510.60" r="2.4"/><circle cx="202.00" cy="515.40" r="2.4"/><circle cx="199.00" cy="523.40" r="2.4"/><circle cx="175.00" cy="530.00" r="2.4"/><circle cx="176.00" cy="534.60" r="2.4"/><circle cx="188.60" cy="531.00" r="2.4"/><circle cx="200.00" cy="536.00" r="2.4"/><circle cx="202.00" cy="541.40" r="2.4"/><circle cx="189.00" cy="547.00" r="2.4"/><circle cx="202.60" cy="549.40" r="2.4"/><circle cx="200.00" cy="558.60" r="2.4"/><circle cx="188.00" cy="564.00" r="2.4"/><circle cx="212.60" cy="563.00" r="2.4"/><circle cx="209.00" cy="547.00" r="2.4"/><circle cx="220.60" cy="545.00" r="2.4"/><circle cx="211.00" cy="559.00" r="2.4"/><circle cx="228.00" cy="582.00" r="2.4"/><circle cx="242.00" cy="581.00" r="2.4"/><rect x="217.70" y="525.10" width="4.6" height="4.6"/><rect x="214.30" y="529.70" width="4.6" height="4.6"/><rect x="221.70" y="534.30" width="4.6" height="4.6"/><rect x="227.70" y="534.30" width="4.6" height="4.6"/><rect x="220.30" y="549.10" width="4.6" height="4.6"/><rect x="214.30" y="550.30" width="4.6" height="4.6"/><rect x="206.70" y="550.70" width="4.6" height="4.6"/><rect x="233.10" y="565.10" width="4.6" height="4.6"/><rect x="235.70" y="573.70" width="4.6" height="4.6"/><rect x="241.10" y="594.10" width="4.6" height="4.6"/><rect x="226.90" y="526.50" width="5.0" height="5.0" class="o" stroke-width="1.25"/><rect x="236.10" y="537.50" width="5.0" height="5.0" class="o" stroke-width="1.25"/><rect x="222.10" y="540.90" width="5.0" height="5.0" class="o" stroke-width="1.25"/><rect x="208.90" y="540.90" width="5.0" height="5.0" class="o" stroke-width="1.25"/><rect x="233.50" y="542.90" width="5.0" height="5.0" class="o" stroke-width="1.25"/><rect x="212.50" y="546.10" width="5.0" height="5.0" class="o" stroke-width="1.25"/><rect x="228.90" y="552.10" width="5.0" height="5.0" class="o" stroke-width="1.25"/><rect x="235.50" y="549.50" width="5.0" height="5.0" class="o" stroke-width="1.25"/><rect x="204.50" y="555.50" width="5.0" height="5.0" class="o" stroke-width="1.25"/><circle cx="219.00" cy="572.60" r="2.6" class="o" stroke-width="1.25"/><circle cx="224.60" cy="571.40" r="2.6" class="o" stroke-width="1.25"/><circle cx="216.60" cy="578.60" r="2.6" class="o" stroke-width="1.25"/><circle cx="219.40" cy="576.00" r="2.6" class="o" stroke-width="1.25"/><circle cx="241.40" cy="574.60" r="2.6" class="o" stroke-width="1.25"/><circle cx="242.00" cy="584.60" r="2.6" class="o" stroke-width="1.25"/><path d="M217.00,536.00L219.30,540.21L214.70,540.21Z"/><path d="M241.40,550.00L243.70,554.21L239.10,554.21Z"/><path d="M227.00,561.40L229.30,565.61L224.70,565.61Z"/><path d="M245.40,573.40L247.70,577.61L243.10,577.61Z"/></g>
<path d="M175.50,525.00L245.00,567.50" stroke="#000" stroke-width="1.35" stroke-dasharray="5.5,3" fill="none"/>
<path d="M284.20,500.60V601.80H385.75" fill="none" stroke="#000" stroke-width="1.45"/>
<path d="M284.20,601.80v2.5 M301.12,601.80v2.5 M318.05,601.80v2.5 M334.98,601.80v2.5 M351.90,601.80v2.5 M368.82,601.80v2.5 M385.75,601.80v2.5 M284.20,601.80h-2.6 M284.20,590.56h-2.6 M284.20,579.31h-2.6 M284.20,568.07h-2.6 M284.20,556.82h-2.6 M284.20,545.58h-2.6 M284.20,534.33h-2.6 M284.20,523.09h-2.6 M284.20,511.84h-2.6 M284.20,500.60h-2.6" stroke="#333" stroke-width="0.7" fill="none"/>
<text transform="translate(284.20,614.00) scale(1.0,1)" font-size="6.5" text-anchor="middle" class="k">0</text>
<text transform="translate(301.12,614.00) scale(1.0,1)" font-size="6.5" text-anchor="middle" class="k">10</text>
<text transform="translate(318.05,614.00) scale(1.0,1)" font-size="6.5" text-anchor="middle" class="k">20</text>
<text transform="translate(334.98,614.00) scale(1.0,1)" font-size="6.5" text-anchor="middle" class="k">30</text>
<text transform="translate(351.90,614.00) scale(1.0,1)" font-size="6.5" text-anchor="middle" class="k">40</text>
<text transform="translate(368.82,614.00) scale(1.0,1)" font-size="6.5" text-anchor="middle" class="k">50</text>
<text transform="translate(385.75,614.00) scale(1.0,1)" font-size="6.5" text-anchor="middle" class="k">60</text>
<text transform="translate(280.00,604.47) scale(0.93,1)" font-size="6.5" text-anchor="end" class="k">0</text>
<text transform="translate(280.00,593.23) scale(0.93,1)" font-size="6.5" text-anchor="end" class="k">1</text>
<text transform="translate(280.00,581.99) scale(0.93,1)" font-size="6.5" text-anchor="end" class="k">2</text>
<text transform="translate(280.00,570.74) scale(0.93,1)" font-size="6.5" text-anchor="end" class="k">3</text>
<text transform="translate(280.00,559.50) scale(0.93,1)" font-size="6.5" text-anchor="end" class="k">4</text>
<text transform="translate(280.00,548.25) scale(0.93,1)" font-size="6.5" text-anchor="end" class="k">5</text>
<text transform="translate(280.00,537.01) scale(0.93,1)" font-size="6.5" text-anchor="end" class="k">6</text>
<text transform="translate(280.00,525.76) scale(0.93,1)" font-size="6.5" text-anchor="end" class="k">7</text>
<text transform="translate(280.00,514.52) scale(0.93,1)" font-size="6.5" text-anchor="end" class="k">8</text>
<text transform="translate(280.00,503.27) scale(0.93,1)" font-size="6.5" text-anchor="end" class="k">9</text>
<text transform="translate(334.80,626.00) scale(0.885,1)" font-size="8.4" text-anchor="middle" class="t">Glucose (mgm/dl)</text>
<text transform="translate(271.20,551.80) rotate(-90) scale(0.98,1)" font-size="7.6" text-anchor="middle" class="t" style="stroke-width:0.6">Platelet Survival (Days)</text>
<text transform="translate(296.40,493.60) scale(0.81,1)" font-size="9.8" class="t">r<tspan font-size="6" dy="-3.4">2</tspan><tspan dy="3.4">=0.22</tspan></text>
<g><circle cx="286.50" cy="513.00" r="2.4"/><circle cx="284.20" cy="530.80" r="2.4"/><circle cx="284.20" cy="550.40" r="2.4"/><circle cx="284.20" cy="564.20" r="2.4"/><circle cx="308.00" cy="546.00" r="2.4"/><circle cx="303.00" cy="552.60" r="2.4"/><circle cx="364.00" cy="546.00" r="2.4"/><rect x="356.70" y="525.70" width="4.6" height="4.6"/><rect x="361.70" y="536.70" width="4.6" height="4.6"/><rect x="356.70" y="550.30" width="4.6" height="4.6"/><rect x="348.70" y="543.70" width="4.6" height="4.6"/><rect x="339.70" y="534.30" width="4.6" height="4.6"/><rect x="316.30" y="530.30" width="4.6" height="4.6"/><rect x="317.70" y="551.10" width="4.6" height="4.6"/><rect x="312.70" y="549.10" width="4.6" height="4.6"/><rect x="294.30" y="534.30" width="4.6" height="4.6"/><rect x="283.70" y="594.40" width="4.6" height="4.6"/><rect x="286.40" y="548.60" width="4.6" height="4.6"/><rect x="363.50" y="552.90" width="5.0" height="5.0" class="o" stroke-width="1.25"/><rect x="338.50" y="555.50" width="5.0" height="5.0" class="o" stroke-width="1.25"/><rect x="329.50" y="537.50" width="5.0" height="5.0" class="o" stroke-width="1.25"/><rect x="328.10" y="540.90" width="5.0" height="5.0" class="o" stroke-width="1.25"/><rect x="322.50" y="542.50" width="5.0" height="5.0" class="o" stroke-width="1.25"/><rect x="310.50" y="564.90" width="5.0" height="5.0" class="o" stroke-width="1.25"/><rect x="300.50" y="542.50" width="5.0" height="5.0" class="o" stroke-width="1.25"/><rect x="294.10" y="545.50" width="5.0" height="5.0" class="o" stroke-width="1.25"/><rect x="290.10" y="526.50" width="5.0" height="5.0" class="o" stroke-width="1.25"/><rect x="284.00" y="541.20" width="5.0" height="5.0" class="o" stroke-width="1.25"/><circle cx="284.70" cy="574.00" r="2.6" class="o" stroke-width="1.25"/><circle cx="286.90" cy="578.00" r="2.6" class="o" stroke-width="1.25"/><circle cx="284.70" cy="580.70" r="2.6" class="o" stroke-width="1.25"/><circle cx="286.50" cy="583.40" r="2.6" class="o" stroke-width="1.25"/><path d="M357.40,508.40L359.70,512.61L355.10,512.61Z"/><path d="M368.00,519.40L370.30,523.61L365.70,523.61Z"/><path d="M384.60,528.00L386.90,532.21L382.30,532.21Z"/><path d="M383.00,534.40L385.30,538.61L380.70,538.61Z"/><path d="M338.60,545.40L340.90,549.61L336.30,549.61Z"/><path d="M336.00,537.40L338.30,541.61L333.70,541.61Z"/><path d="M330.40,528.40L332.70,532.61L328.10,532.61Z"/><path d="M325.40,561.40L327.70,565.61L323.10,565.61Z"/><path d="M315.40,562.40L317.70,566.61L313.10,566.61Z"/><path d="M309.00,549.40L311.30,553.61L306.70,553.61Z"/><path d="M284.70,520.70L287.00,524.91L282.40,524.91Z"/><path d="M285.60,555.80L287.90,560.01L283.30,560.01Z"/><path d="M286.00,566.10L288.30,570.31L283.70,570.31Z"/><path d="M290.50,568.40L292.80,572.61L288.20,572.61Z"/><path d="M286.00,587.90L288.30,592.11L283.70,592.11Z"/><rect x="339.10" y="538.30" width="4.6" height="4.6"/><rect x="340.70" y="550.30" width="4.6" height="4.6"/><circle cx="287.20" cy="523.00" r="2.4"/></g>
<path d="M286.00,560.60L385.00,531.00" stroke="#000" stroke-width="1.35" stroke-dasharray="5.5,3" fill="none"/>
<path d="M414.80,500.60V601.80H517.00" fill="none" stroke="#000" stroke-width="1.45"/>
<path d="M414.80,601.80v2.5 M448.87,601.80v2.5 M482.93,601.80v2.5 M517.00,601.80v2.5 M414.80,601.80h-2.6 M414.80,590.56h-2.6 M414.80,579.31h-2.6 M414.80,568.07h-2.6 M414.80,556.82h-2.6 M414.80,545.58h-2.6 M414.80,534.33h-2.6 M414.80,523.09h-2.6 M414.80,511.84h-2.6 M414.80,500.60h-2.6" stroke="#333" stroke-width="0.7" fill="none"/>
<text transform="translate(414.80,614.00) scale(1.0,1)" font-size="6.5" text-anchor="middle" class="k">5</text>
<text transform="translate(448.87,614.00) scale(1.0,1)" font-size="6.5" text-anchor="middle" class="k">6</text>
<text transform="translate(482.93,614.00) scale(1.0,1)" font-size="6.5" text-anchor="middle" class="k">7</text>
<text transform="translate(517.00,614.00) scale(1.0,1)" font-size="6.5" text-anchor="middle" class="k">8</text>
<text transform="translate(410.60,604.47) scale(0.93,1)" font-size="6.5" text-anchor="end" class="k">0</text>
<text transform="translate(410.60,593.23) scale(0.93,1)" font-size="6.5" text-anchor="end" class="k">1</text>
<text transform="translate(410.60,581.99) scale(0.93,1)" font-size="6.5" text-anchor="end" class="k">2</text>
<text transform="translate(410.60,570.74) scale(0.93,1)" font-size="6.5" text-anchor="end" class="k">3</text>
<text transform="translate(410.60,559.50) scale(0.93,1)" font-size="6.5" text-anchor="end" class="k">4</text>
<text transform="translate(410.60,548.25) scale(0.93,1)" font-size="6.5" text-anchor="end" class="k">5</text>
<text transform="translate(410.60,537.01) scale(0.93,1)" font-size="6.5" text-anchor="end" class="k">6</text>
<text transform="translate(410.60,525.76) scale(0.93,1)" font-size="6.5" text-anchor="end" class="k">7</text>
<text transform="translate(410.60,514.52) scale(0.93,1)" font-size="6.5" text-anchor="end" class="k">8</text>
<text transform="translate(410.60,503.27) scale(0.93,1)" font-size="6.5" text-anchor="end" class="k">9</text>
<text transform="translate(468.00,626.00) scale(0.885,1)" font-size="8.4" text-anchor="middle" class="t">pH</text>
<text transform="translate(401.20,551.80) rotate(-90) scale(0.98,1)" font-size="7.6" text-anchor="middle" class="t" style="stroke-width:0.6">Platelet Survival (Days)</text>
<text transform="translate(427.20,493.60) scale(0.81,1)" font-size="9.8" class="t">r<tspan font-size="6" dy="-3.4">2</tspan><tspan dy="3.4">=0.03</tspan></text>
<g><circle cx="484.00" cy="502.60" r="2.4"/><circle cx="493.60" cy="513.00" r="2.4"/><circle cx="492.00" cy="511.00" r="2.4"/><circle cx="487.50" cy="523.50" r="2.4"/><circle cx="499.00" cy="523.00" r="2.4"/><circle cx="487.00" cy="531.00" r="2.4"/><circle cx="490.50" cy="531.00" r="2.4"/><circle cx="497.50" cy="527.50" r="2.4"/><circle cx="500.50" cy="531.00" r="2.4"/><circle cx="490.00" cy="538.00" r="2.4"/><circle cx="496.00" cy="544.50" r="2.4"/><circle cx="500.00" cy="544.50" r="2.4"/><circle cx="504.00" cy="545.50" r="2.4"/><circle cx="501.50" cy="550.00" r="2.4"/><circle cx="497.50" cy="548.50" r="2.4"/><circle cx="489.00" cy="549.50" r="2.4"/><circle cx="498.50" cy="553.00" r="2.4"/><circle cx="507.50" cy="553.50" r="2.4"/><circle cx="490.00" cy="555.50" r="2.4"/><circle cx="498.50" cy="559.50" r="2.4"/><circle cx="506.50" cy="558.00" r="2.4"/><circle cx="491.50" cy="559.50" r="2.4"/><circle cx="483.00" cy="576.00" r="2.4"/><circle cx="503.00" cy="569.50" r="2.4"/><circle cx="506.50" cy="570.00" r="2.4"/><circle cx="507.50" cy="574.50" r="2.4"/><circle cx="498.00" cy="574.00" r="2.4"/><rect x="480.20" y="525.20" width="4.6" height="4.6"/><rect x="470.20" y="530.20" width="4.6" height="4.6"/><rect x="463.70" y="534.20" width="4.6" height="4.6"/><rect x="479.70" y="533.70" width="4.6" height="4.6"/><rect x="486.20" y="541.70" width="4.6" height="4.6"/><rect x="464.20" y="549.70" width="4.6" height="4.6"/><rect x="477.20" y="545.70" width="4.6" height="4.6"/><rect x="478.20" y="550.20" width="4.6" height="4.6"/><rect x="460.70" y="553.20" width="4.6" height="4.6"/><rect x="466.20" y="565.20" width="4.6" height="4.6"/><rect x="472.20" y="574.20" width="4.6" height="4.6"/><rect x="449.70" y="580.70" width="4.6" height="4.6"/><rect x="460.30" y="593.70" width="4.6" height="4.6"/><rect x="475.30" y="535.70" width="4.6" height="4.6"/><rect x="482.10" y="548.30" width="4.6" height="4.6"/><rect x="467.00" y="526.50" width="5.0" height="5.0" class="o" stroke-width="1.25"/><rect x="474.50" y="536.50" width="5.0" height="5.0" class="o" stroke-width="1.25"/><rect x="476.00" y="541.50" width="5.0" height="5.0" class="o" stroke-width="1.25"/><rect x="482.00" y="541.00" width="5.0" height="5.0" class="o" stroke-width="1.25"/><rect x="466.50" y="545.50" width="5.0" height="5.0" class="o" stroke-width="1.25"/><rect x="470.50" y="542.50" width="5.0" height="5.0" class="o" stroke-width="1.25"/><rect x="470.00" y="550.00" width="5.0" height="5.0" class="o" stroke-width="1.25"/><rect x="484.00" y="552.50" width="5.0" height="5.0" class="o" stroke-width="1.25"/><rect x="483.00" y="557.50" width="5.0" height="5.0" class="o" stroke-width="1.25"/><rect x="484.50" y="542.50" width="5.0" height="5.0" class="o" stroke-width="1.25"/><circle cx="492.00" cy="563.00" r="2.6" class="o" stroke-width="1.25"/><circle cx="494.00" cy="564.00" r="2.6" class="o" stroke-width="1.25"/><circle cx="502.50" cy="573.50" r="2.6" class="o" stroke-width="1.25"/><circle cx="511.00" cy="574.50" r="2.6" class="o" stroke-width="1.25"/><circle cx="505.50" cy="579.00" r="2.6" class="o" stroke-width="1.25"/><circle cx="509.00" cy="580.50" r="2.6" class="o" stroke-width="1.25"/><circle cx="500.00" cy="581.50" r="2.6" class="o" stroke-width="1.25"/><circle cx="502.00" cy="585.00" r="2.6" class="o" stroke-width="1.25"/><circle cx="498.00" cy="580.00" r="2.6" class="o" stroke-width="1.25"/><path d="M491.00,520.40L493.30,524.61L488.70,524.61Z"/><path d="M494.00,528.40L496.30,532.61L491.70,532.61Z"/><path d="M485.50,546.90L487.80,551.11L483.20,551.11Z"/><path d="M494.50,549.40L496.80,553.61L492.20,553.61Z"/><path d="M475.00,561.40L477.30,565.61L472.70,565.61Z"/><path d="M512.00,562.40L514.30,566.61L509.70,566.61Z"/><path d="M494.50,571.40L496.80,575.61L492.20,575.61Z"/><path d="M493.50,575.90L495.80,580.11L491.20,580.11Z"/><path d="M495.50,579.90L497.80,584.11L493.20,584.11Z"/><path d="M450.40,574.00L452.70,578.21L448.10,578.21Z"/><path d="M440.00,580.40L442.30,584.61L437.70,584.61Z"/><path d="M440.00,587.40L442.30,591.61L437.70,591.61Z"/><path d="M459.60,580.40L461.90,584.61L457.30,584.61Z"/><path d="M464.40,582.00L466.70,586.21L462.10,586.21Z"/><path d="M453.00,594.00L455.30,598.21L450.70,598.21Z"/><path d="M488.40,510.00L491.10,514.86L485.70,514.86Z" class="o" stroke-width="1.1"/><path d="M486.00,534.00L488.70,538.86L483.30,538.86Z" class="o" stroke-width="1.1"/><path d="M485.00,556.50L487.70,561.36L482.30,561.36Z" class="o" stroke-width="1.1"/><path d="M491.50,559.50L494.20,564.36L488.80,564.36Z" class="o" stroke-width="1.1"/><path d="M448.40,558.40L451.10,563.26L445.70,563.26Z" class="o" stroke-width="1.1"/><path d="M460.40,583.60L463.10,588.46L457.70,588.46Z" class="o" stroke-width="1.1"/><path d="M455.00,594.00L457.30,598.21L452.70,598.21Z"/></g>
<path d="M440.00,562.50L512.50,547.50" stroke="#000" stroke-width="1.35" stroke-dasharray="5.5,3" fill="none"/>
</svg></body></html>
